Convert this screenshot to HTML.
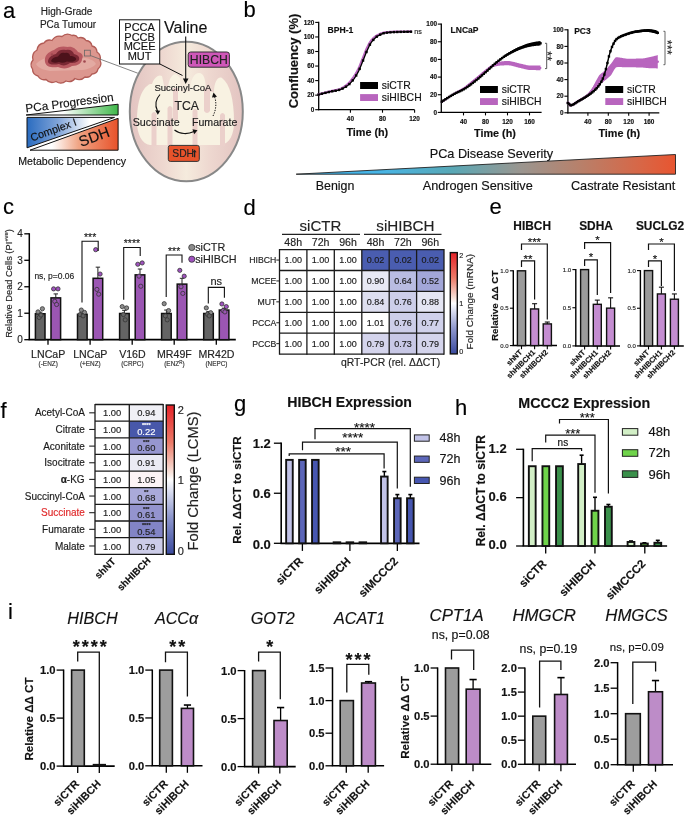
<!DOCTYPE html><html><head><meta charset="utf-8"><title>Figure</title><style>html,body{margin:0;padding:0;background:#fff;width:685px;height:816px;overflow:hidden;}svg text{stroke-width:0.22px;stroke-opacity:0.7;}svg{display:block;font-family:"Liberation Sans",sans-serif;will-change:transform;filter:blur(0.35px);}</style></head><body><svg width="685" height="816" viewBox="0 0 685 816" font-family='"Liberation Sans", sans-serif'><defs>
<linearGradient id="gGreen" x1="0" y1="0" x2="1" y2="0"><stop offset="0" stop-color="#fff"/><stop offset="0.4" stop-color="#fff"/><stop offset="1" stop-color="#3fb84a"/></linearGradient>
<linearGradient id="gBlue" x1="0" y1="0" x2="1" y2="0"><stop offset="0" stop-color="#2a6cc0"/><stop offset="0.35" stop-color="#7fa3d8"/><stop offset="0.72" stop-color="#fff"/><stop offset="1" stop-color="#fff"/></linearGradient>
<linearGradient id="gOrange" x1="0" y1="0" x2="1" y2="0"><stop offset="0" stop-color="#fff"/><stop offset="0.25" stop-color="#fff"/><stop offset="0.55" stop-color="#f0a585"/><stop offset="1" stop-color="#e8522a"/></linearGradient>
<linearGradient id="gMito" x1="0" y1="0" x2="1" y2="0"><stop offset="0" stop-color="#e3c4c1"/><stop offset="0.3" stop-color="#eed8d0"/><stop offset="0.5" stop-color="#f5ebdd"/><stop offset="0.7" stop-color="#eed8d0"/><stop offset="1" stop-color="#e3c4c1"/></linearGradient>
<linearGradient id="gSev" x1="0" y1="0" x2="1" y2="0"><stop offset="0" stop-color="#3cb6f0"/><stop offset="0.22" stop-color="#48b5e6"/><stop offset="0.41" stop-color="#58a8b6"/><stop offset="0.59" stop-color="#9a9690"/><stop offset="0.75" stop-color="#b8806a"/><stop offset="0.91" stop-color="#d86646"/><stop offset="1" stop-color="#e85530"/></linearGradient>
<linearGradient id="gCbar" x1="0" y1="0" x2="0" y2="1"><stop offset="0" stop-color="#e52228"/><stop offset="0.25" stop-color="#ec7a68"/><stop offset="0.45" stop-color="#f8e2da"/><stop offset="0.5" stop-color="#ffffff"/><stop offset="0.56" stop-color="#e2e5f4"/><stop offset="0.75" stop-color="#8e97cd"/><stop offset="1" stop-color="#3a4a9e"/></linearGradient><linearGradient id="gCbar2" x1="0" y1="0" x2="0" y2="1"><stop offset="0" stop-color="#e52228"/><stop offset="0.25" stop-color="#ec7a68"/><stop offset="0.45" stop-color="#f8e2da"/><stop offset="0.5" stop-color="#ffffff"/><stop offset="0.56" stop-color="#e2e5f4"/><stop offset="0.75" stop-color="#8e97cd"/><stop offset="1" stop-color="#3a4a9e"/></linearGradient></defs><text x="3.00" y="17.50" font-size="22" fill="#000" stroke="#000">a</text>
<text x="66.60" y="15.20" font-size="10" text-anchor="middle" fill="#222" stroke="#222">High-Grade</text>
<text x="68.00" y="27.50" font-size="10" text-anchor="middle" fill="#222" stroke="#222">PCa Tumour</text>
<path d="M33,60 Q31.2,53.5 37,50 Q37.8,43.8 44,43 Q47.0,38.7 52,40.5 Q55.5,34.7 62,36.5 Q66.6,32.2 72,35.5 Q76.0,34.5 78,38 Q83.0,36.2 86,40.5 Q91.1,41.0 92,46 Q96.8,47.1 97,52 Q101.5,54.9 100,60 Q102.4,65.3 98,69 Q96.9,73.8 92,74 Q89.6,78.2 85,77 Q80.6,81.5 75,78.5 Q71.5,83.2 66,81 Q61.2,85.0 56,81.5 Q50.2,84.3 46,79.5 Q40.7,80.8 38,76 Q32.6,74.6 32.5,69 Q29.3,64.3 33,60 Z" fill="#dc978f" stroke="#b25c56" stroke-width="1.3"/>
<path d="M36,64 C40,60 46,57 52,58 L80,57 C88,58 94,60 96,64 C92,68 86,70 80,70 L50,71 C44,70 38,68 36,64 Z" fill="#e3aaa2"/>
<path d="M45,62 C44,56 48,52 54,50 C58,46 64,46 68,47 C72,46 76,49 78,52 C82,53 84,56 82,59 C82,63 78,66 72,66 C68,69 62,69 58,67 C52,68 46,67 45,62 Z" fill="#b85860"/>
<path d="M48,62 C48,58 51,55 56,54 C58,50 62,49 66,50 C70,49 73,51 74,54 C78,55 80,57 79,60 C77,63 73,63 70,63 C66,66 62,66 59,64 C54,65 49,65 48,62 Z" fill="#7a2834"/>
<path d="M51,61 C52,58 55,57 58,56.5 C60,53 62,52 65,53 C68,52 70,54 70,56 C74,56 77,58 76,60 C74,62 70,62 67,61.5 C64,63 61,63 59,62 C56,63 52,63 51,61 Z" fill="#4c121b"/>
<circle cx="84.50" cy="61.50" r="1.3" fill="#a04850"/>
<circle cx="52.00" cy="54.50" r="1.2" fill="#a04850"/>
<rect x="84.50" y="50.20" width="5.80" height="5.80" fill="none" stroke="#666" stroke-width="0.8"/>
<line x1="90.30" y1="55.50" x2="137.80" y2="73.20" stroke="#666" stroke-width="0.8"/>
<polygon points="26.10,115.00 118.10,104.20 118.10,115.00" fill="url(#gGreen)" stroke="#111" stroke-width="1"/>
<text x="26.00" y="112.60" font-size="11.75" fill="#111" stroke="#111" transform="rotate(-7.6 26.00 112.60)">PCa Progression</text>
<polygon points="27.00,117.40 114.50,117.40 27.00,147.80" fill="url(#gBlue)" stroke="#111" stroke-width="1"/>
<polygon points="118.10,118.30 118.10,150.20 30.00,150.20" fill="url(#gOrange)" stroke="#111" stroke-width="1"/>
<text x="32.00" y="141.50" font-size="10.7" fill="#111" stroke="#111" transform="rotate(-20 32.00 141.50)">Complex I</text>
<text x="81.00" y="147.00" font-size="15" fill="#111" stroke="#111" transform="rotate(-20 81.00 147.00)">SDH</text>
<text x="72.20" y="164.60" font-size="10.6" text-anchor="middle" fill="#111" stroke="#111">Metabolic Dependency</text>
<ellipse cx="186.30" cy="111.50" rx="56.5" ry="69.8" fill="url(#gMito)" stroke="#888" stroke-width="2"/>
<path d="M137,122 C137,100 142,88 150,84 L152,84 C154,78 158,74 162,76 L165,90 L168,90 C168,80 172,74 176,74 L180,78 L181,92 L190,92 C190,80 194,73 199,73 C204,73 206,80 206,92 L214,92 C214,82 218,76 222,78 C230,84 234,100 234,122 C234,134 230,144 220,145 L150,145 C142,144 137,134 137,122 Z" fill="#f8f2e2"/>
<path d="M151.5,146 L151.5,114 Q154.0,110 156.5,114 L156.5,146 Z" fill="#ebd0cb"/>
<path d="M167.5,146 L167.5,108 Q170.0,104 172.5,108 L172.5,146 Z" fill="#ebd0cb"/>
<path d="M192.5,146 L192.5,111 Q195.0,107 197.5,111 L197.5,146 Z" fill="#ebd0cb"/>
<path d="M220,146 L220,115 Q222.5,111 225,115 L225,146 Z" fill="#ebd0cb"/>
<path d="M173,88 L173,119 Q175.5,123 178,119 L178,88 Z" fill="#ebd0cb"/>
<path d="M204,88 L204,111 Q207.0,115 210,111 L210,88 Z" fill="#ebd0cb"/>
<rect x="119.50" y="19.80" width="40.20" height="44.20" fill="#fff" stroke="#111" stroke-width="1"/>
<text x="139.60" y="31.30" font-size="11" text-anchor="middle" fill="#111" stroke="#111">PCCA</text>
<text x="139.60" y="40.85" font-size="11" text-anchor="middle" fill="#111" stroke="#111">PCCB</text>
<text x="139.60" y="50.40" font-size="11" text-anchor="middle" fill="#111" stroke="#111">MCEE</text>
<text x="139.60" y="59.95" font-size="11" text-anchor="middle" fill="#111" stroke="#111">MUT</text>
<text x="164.00" y="33.00" font-size="16" fill="#111" stroke="#111">Valine</text>
<line x1="185.70" y1="36.50" x2="185.70" y2="80.00" stroke="#111" stroke-width="1.1"/>
<polygon points="182.90,78.50 188.50,78.50 185.70,84.00" fill="#111"/>
<line x1="159.50" y1="63.80" x2="182.50" y2="75.50" stroke="#111" stroke-width="1"/>
<rect x="188.20" y="52.00" width="41.20" height="15.20" fill="#cf57b8" stroke="#333" stroke-width="1" rx="2.5"/>
<text x="208.80" y="64.10" font-size="12.2" text-anchor="middle" fill="#222" stroke="#222">HIBCH</text>
<text x="182.90" y="91.00" font-size="9.5" text-anchor="middle" fill="#222" stroke="#222">Succinyl-CoA</text>
<text x="186.80" y="110.00" font-size="12.2" text-anchor="middle" fill="#222" stroke="#222">TCA</text>
<text x="132.70" y="126.00" font-size="10.7" fill="#222" stroke="#222">Succinate</text>
<text x="192.00" y="126.00" font-size="10.6" fill="#222" stroke="#222">Fumarate</text>
<path d="M160,94.5 C155,100 155,106 157.5,111" fill="none" stroke="#111" stroke-width="1.1"/>
<polygon points="155.20,110.20 160.20,110.80 157.80,114.80" fill="#111"/>
<path d="M174.5,130 C180,134.5 188,134.5 194,131.5" fill="none" stroke="#111" stroke-width="1.1"/>
<polygon points="192.50,129.20 197.50,130.20 194.20,134.20" fill="#111"/>
<path d="M213,116 C216.5,109 216.5,102 214.5,96.5" fill="none" stroke="#111" stroke-width="1" stroke-dasharray="1.3,1.3"/>
<polygon points="212.00,97.50 217.00,96.80 213.50,92.60" fill="#111"/>
<rect x="168.30" y="145.40" width="31.00" height="16.00" fill="#e8532b" stroke="#333" stroke-width="1" rx="2"/>
<text x="172.30" y="157.20" font-size="10.3" fill="#222" stroke="#222">SDH</text>
<line x1="194.60" y1="157.30" x2="194.60" y2="151.50" stroke="#222" stroke-width="1.3"/>
<polygon points="192.60,152.20 196.60,152.20 194.60,149.40" fill="#222"/>
<text x="243.50" y="17.00" font-size="22" fill="#000" stroke="#000">b</text>
<text x="297.90" y="61.00" font-size="13.0" text-anchor="middle" font-weight="bold" fill="#111" stroke="#111" transform="rotate(-90 297.90 61.00)">Confluency (%)</text>
<line x1="318.70" y1="21.80" x2="318.70" y2="110.30" stroke="#000" stroke-width="1.3"/>
<line x1="315.20" y1="109.70" x2="318.70" y2="109.70" stroke="#000" stroke-width="1.1"/>
<text x="314.40" y="111.80" font-size="6.4" text-anchor="end" font-weight="bold" fill="#111" stroke="#111">0</text>
<line x1="315.20" y1="95.15" x2="318.70" y2="95.15" stroke="#000" stroke-width="1.1"/>
<text x="314.40" y="97.25" font-size="6.4" text-anchor="end" font-weight="bold" fill="#111" stroke="#111">20</text>
<line x1="315.20" y1="80.60" x2="318.70" y2="80.60" stroke="#000" stroke-width="1.1"/>
<text x="314.40" y="82.70" font-size="6.4" text-anchor="end" font-weight="bold" fill="#111" stroke="#111">40</text>
<line x1="315.20" y1="66.05" x2="318.70" y2="66.05" stroke="#000" stroke-width="1.1"/>
<text x="314.40" y="68.15" font-size="6.4" text-anchor="end" font-weight="bold" fill="#111" stroke="#111">60</text>
<line x1="315.20" y1="51.50" x2="318.70" y2="51.50" stroke="#000" stroke-width="1.1"/>
<text x="314.40" y="53.60" font-size="6.4" text-anchor="end" font-weight="bold" fill="#111" stroke="#111">80</text>
<line x1="315.20" y1="36.95" x2="318.70" y2="36.95" stroke="#000" stroke-width="1.1"/>
<text x="314.40" y="39.05" font-size="6.4" text-anchor="end" font-weight="bold" fill="#111" stroke="#111">100</text>
<line x1="315.20" y1="22.40" x2="318.70" y2="22.40" stroke="#000" stroke-width="1.1"/>
<text x="314.40" y="24.50" font-size="6.4" text-anchor="end" font-weight="bold" fill="#111" stroke="#111">120</text>
<line x1="318.10" y1="109.70" x2="414.60" y2="109.70" stroke="#000" stroke-width="1.3"/>
<line x1="350.40" y1="109.70" x2="350.40" y2="112.70" stroke="#000" stroke-width="1.1"/>
<text x="350.40" y="121.00" font-size="6.4" text-anchor="middle" font-weight="bold" fill="#111" stroke="#111">40</text>
<line x1="382.50" y1="109.70" x2="382.50" y2="112.70" stroke="#000" stroke-width="1.1"/>
<text x="382.50" y="121.00" font-size="6.4" text-anchor="middle" font-weight="bold" fill="#111" stroke="#111">80</text>
<line x1="414.60" y1="109.70" x2="414.60" y2="112.70" stroke="#000" stroke-width="1.1"/>
<text x="414.60" y="121.00" font-size="6.4" text-anchor="middle" font-weight="bold" fill="#111" stroke="#111">120</text>
<polyline points="318.54,94.50 319.12,94.33 319.70,94.16 320.29,94.00 320.87,93.84 321.45,93.67 322.03,93.51 322.61,93.35 323.19,93.19 323.77,93.04 324.36,92.88 324.94,92.72 325.52,92.57 326.10,92.42 326.68,92.27 327.26,92.12 327.84,91.97 328.43,91.82 329.01,91.68 329.59,91.53 330.17,91.39 330.75,91.24 331.33,91.10 331.91,90.97 332.50,90.85 333.08,90.73 333.66,90.61 334.24,90.50 334.82,90.39 335.40,90.27 335.98,90.15 336.57,90.03 337.15,89.89 337.73,89.75 338.31,89.59 338.89,89.42 339.47,89.23 340.05,89.01 340.64,88.76 341.22,88.50 341.80,88.21 342.38,87.89 342.96,87.56 343.54,87.20 344.12,86.83 344.71,86.44 345.29,86.03 345.87,85.61 346.45,85.18 347.03,84.73 347.61,84.25 348.19,83.74 348.78,83.17 349.36,82.57 349.94,81.92 350.52,81.25 351.10,80.54 351.68,79.80 352.26,79.04 352.85,78.26 353.43,77.47 354.01,76.65 354.59,75.78 355.17,74.86 355.75,73.90 356.33,72.90 356.92,71.86 357.50,70.77 358.08,69.65 358.66,68.48 359.24,67.22 359.82,65.88 360.40,64.48 360.99,63.03 361.57,61.55 362.15,60.06 362.73,58.59 363.31,57.14 363.89,55.67 364.47,54.15 365.06,52.64 365.64,51.18 366.22,49.82 366.80,48.58 367.38,47.35 367.96,46.15 368.54,44.99 369.13,43.88 369.71,42.85 370.29,41.92 370.87,41.08 371.45,40.37 372.03,39.71 372.61,39.09 373.20,38.49 373.78,37.94 374.36,37.41 374.94,36.93 375.52,36.48 376.10,36.06 376.68,35.69 377.27,35.35 377.85,35.05 378.43,34.77 379.01,34.49 379.59,34.22 380.17,33.96 380.75,33.72 381.34,33.49 381.92,33.27 382.50,33.08 383.08,32.90 383.66,32.74 384.24,32.60 384.82,32.49 385.41,32.40 385.99,32.34 386.57,32.28 387.15,32.23 387.73,32.17 388.31,32.13 388.89,32.08 389.48,32.04 390.06,32.00 390.64,31.96 391.22,31.92 391.80,31.89 392.38,31.86 392.96,31.84 393.55,31.81 394.13,31.79 394.71,31.77 395.29,31.75 395.87,31.73 396.45,31.72 397.03,31.71 397.62,31.70 398.20,31.69 398.78,31.68 399.36,31.67 399.94,31.66 400.52,31.65 401.10,31.65 401.69,31.64 402.27,31.63 402.85,31.62 403.43,31.62 404.01,31.61 404.59,31.60 405.17,31.60 405.76,31.59 406.34,31.59 406.92,31.58 407.50,31.58 408.08,31.58 408.66,31.57 409.24,31.57 409.83,31.57 410.41,31.57 410.99,31.57" fill="none" stroke="#b865be" stroke-width="2.4" stroke-linejoin="round" stroke-linecap="round"/>
<polyline points="318.54,94.65 319.12,94.48 319.70,94.33 320.29,94.17 320.87,94.01 321.45,93.86 322.03,93.70 322.61,93.55 323.19,93.40 323.77,93.25 324.36,93.11 324.94,92.96 325.52,92.82 326.10,92.68 326.68,92.54 327.26,92.40 327.84,92.26 328.43,92.13 329.01,91.99 329.59,91.86 330.17,91.73 330.75,91.60 331.33,91.47 331.91,91.35 332.50,91.24 333.08,91.13 333.66,91.03 334.24,90.93 334.82,90.84 335.40,90.74 335.98,90.63 336.57,90.52 337.15,90.41 337.73,90.28 338.31,90.14 338.89,89.99 339.47,89.82 340.05,89.63 340.64,89.42 341.22,89.19 341.80,88.94 342.38,88.67 342.96,88.39 343.54,88.08 344.12,87.76 344.71,87.43 345.29,87.08 345.87,86.71 346.45,86.34 347.03,85.95 347.61,85.54 348.19,85.09 348.78,84.60 349.36,84.08 349.94,83.52 350.52,82.93 351.10,82.31 351.68,81.66 352.26,80.98 352.85,80.29 353.43,79.57 354.01,78.81 354.59,78.00 355.17,77.13 355.75,76.21 356.33,75.25 356.92,74.24 357.50,73.18 358.08,72.10 358.66,70.97 359.24,69.76 359.82,68.46 360.40,67.09 360.99,65.68 361.57,64.24 362.15,62.79 362.73,61.34 363.31,59.91 363.89,58.46 364.47,56.96 365.06,55.46 365.64,54.00 366.22,52.61 366.80,51.30 367.38,49.99 367.96,48.69 368.54,47.42 369.13,46.20 369.71,45.05 370.29,43.99 370.87,43.05 371.45,42.23 372.03,41.47 372.61,40.74 373.20,40.05 373.78,39.40 374.36,38.78 374.94,38.21 375.52,37.67 376.10,37.18 376.68,36.74 377.27,36.34 377.85,35.98 378.43,35.65 379.01,35.32 379.59,35.00 380.17,34.70 380.75,34.41 381.34,34.14 381.92,33.88 382.50,33.65 383.08,33.44 383.66,33.25 384.24,33.09 384.82,32.95 385.41,32.85 385.99,32.77 386.57,32.70 387.15,32.63 387.73,32.57 388.31,32.52 388.89,32.46 389.48,32.41 390.06,32.36 390.64,32.32 391.22,32.28 391.80,32.24 392.38,32.20 392.96,32.17 393.55,32.14 394.13,32.11 394.71,32.09 395.29,32.06 395.87,32.04 396.45,32.02 397.03,32.00 397.62,31.98 398.20,31.96 398.78,31.95 399.36,31.93 399.94,31.91 400.52,31.89 401.10,31.88 401.69,31.86 402.27,31.85 402.85,31.83 403.43,31.82 404.01,31.80 404.59,31.79 405.17,31.78 405.76,31.77 406.34,31.76 406.92,31.75 407.50,31.74 408.08,31.73 408.66,31.73 409.24,31.72 409.83,31.72 410.41,31.71 410.99,31.71" fill="none" stroke="#000" stroke-width="1.3" stroke-linejoin="round" stroke-linecap="round"/>
<rect x="317.34" y="93.45" width="2.40" height="2.40" fill="#000"/>
<rect x="320.76" y="92.52" width="2.40" height="2.40" fill="#000"/>
<rect x="324.19" y="91.65" width="2.40" height="2.40" fill="#000"/>
<rect x="327.61" y="90.84" width="2.40" height="2.40" fill="#000"/>
<rect x="331.04" y="90.09" width="2.40" height="2.40" fill="#000"/>
<rect x="334.46" y="89.49" width="2.40" height="2.40" fill="#000"/>
<rect x="337.88" y="88.73" width="2.40" height="2.40" fill="#000"/>
<rect x="341.31" y="87.41" width="2.40" height="2.40" fill="#000"/>
<rect x="344.73" y="85.47" width="2.40" height="2.40" fill="#000"/>
<rect x="348.16" y="82.88" width="2.40" height="2.40" fill="#000"/>
<rect x="351.58" y="79.16" width="2.40" height="2.40" fill="#000"/>
<rect x="355.00" y="74.27" width="2.40" height="2.40" fill="#000"/>
<rect x="358.43" y="67.70" width="2.40" height="2.40" fill="#000"/>
<rect x="361.85" y="59.34" width="2.40" height="2.40" fill="#000"/>
<rect x="365.28" y="50.82" width="2.40" height="2.40" fill="#000"/>
<rect x="368.70" y="43.48" width="2.40" height="2.40" fill="#000"/>
<rect x="372.12" y="38.71" width="2.40" height="2.40" fill="#000"/>
<rect x="375.55" y="35.49" width="2.40" height="2.40" fill="#000"/>
<rect x="378.97" y="33.50" width="2.40" height="2.40" fill="#000"/>
<rect x="382.40" y="32.07" width="2.40" height="2.40" fill="#000"/>
<rect x="385.82" y="31.45" width="2.40" height="2.40" fill="#000"/>
<rect x="389.24" y="31.13" width="2.40" height="2.40" fill="#000"/>
<rect x="392.67" y="30.93" width="2.40" height="2.40" fill="#000"/>
<rect x="396.09" y="30.79" width="2.40" height="2.40" fill="#000"/>
<rect x="399.52" y="30.69" width="2.40" height="2.40" fill="#000"/>
<rect x="402.94" y="30.60" width="2.40" height="2.40" fill="#000"/>
<rect x="406.36" y="30.54" width="2.40" height="2.40" fill="#000"/>
<rect x="409.79" y="30.51" width="2.40" height="2.40" fill="#000"/>
<text x="327.60" y="32.50" font-size="8.6" font-weight="bold" fill="#111" stroke="#111">BPH-1</text>
<text x="414.30" y="34.00" font-size="7.2" fill="#222" stroke="#222">ns</text>
<rect x="360.10" y="82.00" width="17.90" height="7.00" fill="#000"/>
<rect x="360.10" y="94.10" width="17.90" height="6.90" fill="#b865be"/>
<text x="381.80" y="89.20" font-size="10.4" fill="#111" stroke="#111">siCTR</text>
<text x="381.80" y="100.60" font-size="10.4" fill="#111" stroke="#111">siHIBCH</text>
<text x="367.30" y="136.40" font-size="10.8" text-anchor="middle" font-weight="bold" fill="#111" stroke="#111">Time (h)</text>
<line x1="441.30" y1="23.50" x2="441.30" y2="113.00" stroke="#000" stroke-width="1.3"/>
<line x1="437.80" y1="112.40" x2="441.30" y2="112.40" stroke="#000" stroke-width="1.1"/>
<text x="437.00" y="114.50" font-size="6.4" text-anchor="end" font-weight="bold" fill="#111" stroke="#111">0</text>
<line x1="437.80" y1="94.74" x2="441.30" y2="94.74" stroke="#000" stroke-width="1.1"/>
<text x="437.00" y="96.84" font-size="6.4" text-anchor="end" font-weight="bold" fill="#111" stroke="#111">20</text>
<line x1="437.80" y1="77.08" x2="441.30" y2="77.08" stroke="#000" stroke-width="1.1"/>
<text x="437.00" y="79.18" font-size="6.4" text-anchor="end" font-weight="bold" fill="#111" stroke="#111">40</text>
<line x1="437.80" y1="59.42" x2="441.30" y2="59.42" stroke="#000" stroke-width="1.1"/>
<text x="437.00" y="61.52" font-size="6.4" text-anchor="end" font-weight="bold" fill="#111" stroke="#111">60</text>
<line x1="437.80" y1="41.76" x2="441.30" y2="41.76" stroke="#000" stroke-width="1.1"/>
<text x="437.00" y="43.86" font-size="6.4" text-anchor="end" font-weight="bold" fill="#111" stroke="#111">80</text>
<line x1="437.80" y1="24.10" x2="441.30" y2="24.10" stroke="#000" stroke-width="1.1"/>
<text x="437.00" y="26.20" font-size="6.4" text-anchor="end" font-weight="bold" fill="#111" stroke="#111">100</text>
<line x1="440.70" y1="112.40" x2="541.60" y2="112.40" stroke="#000" stroke-width="1.3"/>
<line x1="463.50" y1="112.40" x2="463.50" y2="115.40" stroke="#000" stroke-width="1.1"/>
<text x="463.50" y="123.70" font-size="6.4" text-anchor="middle" font-weight="bold" fill="#111" stroke="#111">40</text>
<line x1="485.50" y1="112.40" x2="485.50" y2="115.40" stroke="#000" stroke-width="1.1"/>
<text x="485.50" y="123.70" font-size="6.4" text-anchor="middle" font-weight="bold" fill="#111" stroke="#111">80</text>
<line x1="507.50" y1="112.40" x2="507.50" y2="115.40" stroke="#000" stroke-width="1.1"/>
<text x="507.50" y="123.70" font-size="6.4" text-anchor="middle" font-weight="bold" fill="#111" stroke="#111">120</text>
<line x1="529.50" y1="112.40" x2="529.50" y2="115.40" stroke="#000" stroke-width="1.1"/>
<text x="529.50" y="123.70" font-size="6.4" text-anchor="middle" font-weight="bold" fill="#111" stroke="#111">160</text>
<polygon points="441.77,101.78 442.40,101.32 443.02,100.87 443.64,100.42 444.26,99.97 444.88,99.53 445.50,99.09 446.12,98.65 446.74,98.22 447.36,97.79 447.98,97.36 448.61,96.94 449.23,96.52 449.85,96.10 450.47,95.69 451.09,95.27 451.71,94.87 452.33,94.46 452.95,94.06 453.57,93.66 454.19,93.27 454.81,92.87 455.44,92.50 456.06,92.13 456.68,91.77 457.30,91.41 457.92,91.06 458.54,90.72 459.16,90.37 459.78,90.02 460.40,89.67 461.02,89.31 461.64,88.95 462.27,88.58 462.89,88.19 463.51,87.79 464.13,87.38 464.75,86.95 465.37,86.50 465.99,86.05 466.61,85.58 467.23,85.10 467.85,84.61 468.47,84.11 469.10,83.60 469.72,83.09 470.34,82.57 470.96,82.05 471.58,81.53 472.20,81.00 472.82,80.48 473.44,79.96 474.06,79.44 474.68,78.92 475.30,78.40 475.93,77.89 476.55,77.37 477.17,76.84 477.79,76.31 478.41,75.78 479.03,75.25 479.65,74.71 480.27,74.17 480.89,73.64 481.51,73.10 482.13,72.57 482.76,72.04 483.38,71.51 484.00,70.99 484.62,70.47 485.24,69.96 485.86,69.46 486.48,68.97 487.10,68.47 487.72,67.96 488.34,67.45 488.96,66.94 489.59,66.45 490.21,65.97 490.83,65.54 491.45,65.11 492.07,64.74 492.69,64.40 493.31,64.09 493.93,63.79 494.55,63.52 495.17,63.27 495.79,63.04 496.42,62.82 497.04,62.61 497.66,62.40 498.28,62.20 498.90,62.01 499.52,61.83 500.14,61.66 500.76,61.51 501.38,61.38 502.00,61.27 502.62,61.22 503.25,61.18 503.87,61.13 504.49,61.09 505.11,61.06 505.73,61.03 506.35,61.01 506.97,60.99 507.59,60.98 508.21,61.00 508.83,61.04 509.45,61.09 510.08,61.17 510.70,61.27 511.32,61.38 511.94,61.51 512.56,61.65 513.18,61.80 513.80,61.95 514.42,62.12 515.04,62.28 515.66,62.45 516.28,62.62 516.91,62.79 517.53,62.96 518.15,63.12 518.77,63.27 519.39,63.42 520.01,63.55 520.63,63.68 521.25,63.82 521.87,63.96 522.49,64.11 523.11,64.27 523.74,64.43 524.36,64.58 524.98,64.73 525.60,64.87 526.22,65.01 526.84,65.13 527.46,65.24 528.08,65.33 528.70,65.40 529.32,65.45 529.94,65.48 530.57,65.49 531.19,65.51 531.81,65.52 532.43,65.53 533.05,65.55 533.67,65.56 534.29,65.57 534.91,65.57 535.53,65.58 536.15,65.59 536.77,65.59 537.40,65.60 538.02,65.60 538.64,65.61 539.26,65.61 539.88,65.61 540.50,65.61 540.50,70.19 539.88,70.18 539.26,70.18 538.64,70.17 538.02,70.16 537.40,70.15 536.77,70.14 536.15,70.13 535.53,70.12 534.91,70.11 534.29,70.09 533.67,70.08 533.05,70.06 532.43,70.04 531.81,70.03 531.19,70.01 530.57,69.99 529.94,69.97 529.32,69.93 528.70,69.88 528.08,69.80 527.46,69.70 526.84,69.59 526.22,69.46 525.60,69.32 524.98,69.17 524.36,69.02 523.74,68.86 523.11,68.70 522.49,68.53 521.87,68.38 521.25,68.23 520.63,68.08 520.01,67.95 519.39,67.81 518.77,67.66 518.15,67.50 517.53,67.33 516.91,67.16 516.28,66.99 515.66,66.81 515.04,66.64 514.42,66.46 513.80,66.30 513.18,66.13 512.56,65.98 511.94,65.84 511.32,65.70 510.70,65.59 510.08,65.48 509.45,65.40 508.83,65.33 508.21,65.29 507.59,65.27 506.97,65.27 506.35,65.28 505.73,65.30 505.11,65.32 504.49,65.35 503.87,65.39 503.25,65.43 502.62,65.47 502.00,65.51 501.38,65.52 500.76,65.55 500.14,65.60 499.52,65.67 498.90,65.75 498.28,65.84 497.66,65.94 497.04,66.05 496.42,66.16 495.79,66.28 495.17,66.41 494.55,66.57 493.93,66.74 493.31,66.93 492.69,67.14 492.07,67.38 491.45,67.66 490.83,68.00 490.21,68.41 489.59,68.86 488.96,69.33 488.34,69.81 487.72,70.30 487.10,70.78 486.48,71.25 485.86,71.71 485.24,72.19 484.62,72.67 484.00,73.16 483.38,73.66 482.76,74.16 482.13,74.66 481.51,75.17 480.89,75.68 480.27,76.19 479.65,76.70 479.03,77.21 478.41,77.71 477.79,78.22 477.17,78.72 476.55,79.22 475.93,79.72 475.30,80.20 474.68,80.69 474.06,81.19 473.44,81.68 472.82,82.18 472.20,82.68 471.58,83.19 470.96,83.68 470.34,84.18 469.72,84.68 469.10,85.16 468.47,85.65 467.85,86.12 467.23,86.59 466.61,87.05 465.99,87.49 465.37,87.93 464.75,88.35 464.13,88.75 463.51,89.15 462.89,89.52 462.27,89.88 461.64,90.23 461.02,90.57 460.40,90.91 459.78,91.24 459.16,91.56 458.54,91.88 457.92,92.21 457.30,92.53 456.68,92.86 456.06,93.20 455.44,93.55 454.81,93.90 454.19,94.27 453.57,94.64 452.95,95.02 452.33,95.40 451.71,95.78 451.09,96.16 450.47,96.55 449.85,96.94 449.23,97.34 448.61,97.73 447.98,98.13 447.36,98.54 446.74,98.94 446.12,99.36 445.50,99.77 444.88,100.19 444.26,100.61 443.64,101.03 443.02,101.45 442.40,101.88 441.77,102.32" fill="#b865be"/>
<polyline points="441.77,102.05 442.40,101.60 443.02,101.16 443.64,100.72 444.26,100.29 444.88,99.86 445.50,99.43 446.12,99.00 446.74,98.58 447.36,98.16 447.98,97.75 448.61,97.34 449.23,96.93 449.85,96.52 450.47,96.12 451.09,95.72 451.71,95.32 452.33,94.93 452.95,94.54 453.57,94.15 454.19,93.77 454.81,93.39 455.44,93.02 456.06,92.66 456.68,92.31 457.30,91.97 457.92,91.63 458.54,91.30 459.16,90.97 459.78,90.63 460.40,90.29 461.02,89.94 461.64,89.59 462.27,89.23 462.89,88.86 463.51,88.47 464.13,88.07 464.75,87.65 465.37,87.21 465.99,86.77 466.61,86.31 467.23,85.84 467.85,85.36 468.47,84.88 469.10,84.38 469.72,83.88 470.34,83.38 470.96,82.87 471.58,82.36 472.20,81.84 472.82,81.33 473.44,80.82 474.06,80.31 474.68,79.81 475.30,79.30 475.93,78.80 476.55,78.30 477.17,77.78 477.79,77.27 478.41,76.75 479.03,76.23 479.65,75.70 480.27,75.18 480.89,74.66 481.51,74.13 482.13,73.61 482.76,73.10 483.38,72.58 484.00,72.08 484.62,71.57 485.24,71.08 485.86,70.59 486.48,70.11 487.10,69.63 487.72,69.13 488.34,68.63 488.96,68.13 489.59,67.65 490.21,67.19 490.83,66.77 491.45,66.39 492.07,66.06 492.69,65.77 493.31,65.51 493.93,65.27 494.55,65.04 495.17,64.84 495.79,64.66 496.42,64.49 497.04,64.33 497.66,64.17 498.28,64.02 498.90,63.88 499.52,63.75 500.14,63.63 500.76,63.53 501.38,63.45 502.00,63.39 502.62,63.35 503.25,63.30 503.87,63.26 504.49,63.22 505.11,63.19 505.73,63.16 506.35,63.14 506.97,63.13 507.59,63.13 508.21,63.15 508.83,63.19 509.45,63.25 510.08,63.33 510.70,63.43 511.32,63.54 511.94,63.67 512.56,63.81 513.18,63.96 513.80,64.12 514.42,64.29 515.04,64.46 515.66,64.63 516.28,64.81 516.91,64.98 517.53,65.15 518.15,65.31 518.77,65.47 519.39,65.61 520.01,65.75 520.63,65.88 521.25,66.02 521.87,66.17 522.49,66.32 523.11,66.48 523.74,66.64 524.36,66.80 524.98,66.95 525.60,67.10 526.22,67.23 526.84,67.36 527.46,67.47 528.08,67.56 528.70,67.64 529.32,67.69 529.94,67.72 530.57,67.74 531.19,67.76 531.81,67.77 532.43,67.79 533.05,67.80 533.67,67.82 534.29,67.83 534.91,67.84 535.53,67.85 536.15,67.86 536.77,67.87 537.40,67.88 538.02,67.88 538.64,67.89 539.26,67.89 539.88,67.89 540.50,67.90" fill="none" stroke="#b865be" stroke-width="2.0" stroke-linejoin="round" stroke-linecap="round"/>
<polygon points="441.77,101.52 442.40,101.10 443.02,100.67 443.64,100.25 444.26,99.84 444.88,99.43 445.50,99.02 446.12,98.61 446.74,98.22 447.36,97.82 447.98,97.43 448.61,97.04 449.23,96.66 449.85,96.28 450.47,95.91 451.09,95.54 451.71,95.17 452.33,94.81 452.95,94.45 453.57,94.10 454.19,93.75 454.81,93.40 455.44,93.07 456.06,92.75 456.68,92.45 457.30,92.14 457.92,91.85 458.54,91.55 459.16,91.26 459.78,90.97 460.40,90.67 461.02,90.37 461.64,90.06 462.27,89.74 462.89,89.41 463.51,89.07 464.13,88.71 464.75,88.33 465.37,87.94 465.99,87.53 466.61,87.12 467.23,86.70 467.85,86.26 468.47,85.82 469.10,85.36 469.72,84.90 470.34,84.44 470.96,83.96 471.58,83.49 472.20,83.00 472.82,82.52 473.44,82.03 474.06,81.54 474.68,81.05 475.30,80.56 475.93,80.07 476.55,79.57 477.17,79.06 477.79,78.55 478.41,78.03 479.03,77.50 479.65,76.97 480.27,76.44 480.89,75.90 481.51,75.35 482.13,74.81 482.76,74.26 483.38,73.71 484.00,73.16 484.62,72.61 485.24,72.05 485.86,71.50 486.48,70.95 487.10,70.39 487.72,69.83 488.34,69.25 488.96,68.67 489.59,68.08 490.21,67.49 490.83,66.90 491.45,66.30 492.07,65.69 492.69,65.09 493.31,64.50 493.93,63.91 494.55,63.34 495.17,62.77 495.79,62.23 496.42,61.70 497.04,61.18 497.66,60.66 498.28,60.14 498.90,59.63 499.52,59.13 500.14,58.63 500.76,58.14 501.38,57.65 502.00,57.17 502.62,56.70 503.25,56.23 503.87,55.78 504.49,55.33 505.11,54.89 505.73,54.46 506.35,54.04 506.97,53.63 507.59,53.22 508.21,52.83 508.83,52.44 509.45,52.05 510.08,51.67 510.70,51.30 511.32,50.93 511.94,50.56 512.56,50.20 513.18,49.85 513.80,49.50 514.42,49.17 515.04,48.84 515.66,48.51 516.28,48.20 516.91,47.89 517.53,47.59 518.15,47.29 518.77,47.00 519.39,46.73 520.01,46.46 520.63,46.19 521.25,45.93 521.87,45.67 522.49,45.41 523.11,45.16 523.74,44.91 524.36,44.67 524.98,44.43 525.60,44.21 526.22,43.99 526.84,43.78 527.46,43.58 528.08,43.39 528.70,43.22 529.32,43.05 529.94,42.90 530.57,42.76 531.19,42.62 531.81,42.48 532.43,42.34 533.05,42.21 533.67,42.08 534.29,41.96 534.91,41.84 535.53,41.72 536.15,41.61 536.77,41.50 537.40,41.41 538.02,41.31 538.64,41.23 539.26,41.15 539.88,41.09 540.50,41.03 540.50,45.55 539.88,45.57 539.26,45.60 538.64,45.64 538.02,45.69 537.40,45.74 536.77,45.80 536.15,45.86 535.53,45.94 534.91,46.01 534.29,46.10 533.67,46.18 533.05,46.27 532.43,46.37 531.81,46.47 531.19,46.57 530.57,46.67 529.94,46.77 529.32,46.89 528.70,47.01 528.08,47.15 527.46,47.30 526.84,47.46 526.22,47.63 525.60,47.81 524.98,48.00 524.36,48.20 523.74,48.40 523.11,48.61 522.49,48.82 521.87,49.04 521.25,49.26 520.63,49.49 520.01,49.71 519.39,49.95 518.77,50.19 518.15,50.43 517.53,50.69 516.91,50.95 516.28,51.23 515.66,51.50 515.04,51.79 514.42,52.08 513.80,52.38 513.18,52.68 512.56,52.99 511.94,53.30 511.32,53.62 510.70,53.94 510.08,54.26 509.45,54.60 508.83,54.93 508.21,55.27 507.59,55.62 506.97,55.97 506.35,56.33 505.73,56.70 505.11,57.08 504.49,57.47 503.87,57.87 503.25,58.28 502.62,58.69 502.00,59.11 501.38,59.54 500.76,59.98 500.14,60.42 499.52,60.87 498.90,61.33 498.28,61.79 497.66,62.25 497.04,62.72 496.42,63.19 495.79,63.67 495.17,64.17 494.55,64.68 493.93,65.20 493.31,65.74 492.69,66.29 492.07,66.84 491.45,67.39 490.83,67.96 490.21,68.54 489.59,69.12 488.96,69.70 488.34,70.27 487.72,70.84 487.10,71.40 486.48,71.94 485.86,72.49 485.24,73.03 484.62,73.57 484.00,74.12 483.38,74.66 482.76,75.20 482.13,75.74 481.51,76.28 480.89,76.81 480.27,77.34 479.65,77.87 479.03,78.39 478.41,78.91 477.79,79.42 477.17,79.92 476.55,80.42 475.93,80.91 475.30,81.40 474.68,81.88 474.06,82.36 473.44,82.84 472.82,83.32 472.20,83.80 471.58,84.27 470.96,84.74 470.34,85.20 469.72,85.66 469.10,86.11 468.47,86.55 467.85,86.99 467.23,87.42 466.61,87.83 465.99,88.24 465.37,88.63 464.75,89.01 464.13,89.38 463.51,89.73 462.89,90.07 462.27,90.39 461.64,90.70 461.02,91.00 460.40,91.30 459.78,91.58 459.16,91.87 458.54,92.15 457.92,92.44 457.30,92.72 456.68,93.02 456.06,93.32 455.44,93.63 454.81,93.95 454.19,94.28 453.57,94.62 452.95,94.97 452.33,95.32 451.71,95.67 451.09,96.03 450.47,96.39 449.85,96.75 449.23,97.12 448.61,97.50 447.98,97.87 447.36,98.26 446.74,98.64 446.12,99.03 445.50,99.43 444.88,99.83 444.26,100.23 443.64,100.64 443.02,101.05 442.40,101.46 441.77,101.88" fill="#000"/>
<polyline points="441.77,101.70 442.40,101.28 443.02,100.86 443.64,100.44 444.26,100.03 444.88,99.63 445.50,99.22 446.12,98.82 446.74,98.43 447.36,98.04 447.98,97.65 448.61,97.27 449.23,96.89 449.85,96.52 450.47,96.15 451.09,95.78 451.71,95.42 452.33,95.06 452.95,94.71 453.57,94.36 454.19,94.01 454.81,93.68 455.44,93.35 456.06,93.03 456.68,92.73 457.30,92.43 457.92,92.14 458.54,91.85 459.16,91.57 459.78,91.28 460.40,90.99 461.02,90.69 461.64,90.38 462.27,90.07 462.89,89.74 463.51,89.40 464.13,89.04 464.75,88.67 465.37,88.28 465.99,87.89 466.61,87.48 467.23,87.06 467.85,86.62 468.47,86.18 469.10,85.74 469.72,85.28 470.34,84.82 470.96,84.35 471.58,83.88 472.20,83.40 472.82,82.92 473.44,82.44 474.06,81.95 474.68,81.47 475.30,80.98 475.93,80.49 476.55,80.00 477.17,79.49 477.79,78.98 478.41,78.47 479.03,77.95 479.65,77.42 480.27,76.89 480.89,76.35 481.51,75.82 482.13,75.27 482.76,74.73 483.38,74.18 484.00,73.64 484.62,73.09 485.24,72.54 485.86,71.99 486.48,71.45 487.10,70.89 487.72,70.33 488.34,69.76 488.96,69.19 489.59,68.60 490.21,68.02 490.83,67.43 491.45,66.85 492.07,66.26 492.69,65.69 493.31,65.12 493.93,64.56 494.55,64.01 495.17,63.47 495.79,62.95 496.42,62.45 497.04,61.95 497.66,61.45 498.28,60.97 498.90,60.48 499.52,60.00 500.14,59.53 500.76,59.06 501.38,58.60 502.00,58.14 502.62,57.69 503.25,57.25 503.87,56.82 504.49,56.40 505.11,55.98 505.73,55.58 506.35,55.18 506.97,54.80 507.59,54.42 508.21,54.05 508.83,53.69 509.45,53.33 510.08,52.97 510.70,52.62 511.32,52.27 511.94,51.93 512.56,51.59 513.18,51.26 513.80,50.94 514.42,50.62 515.04,50.31 515.66,50.01 516.28,49.71 516.91,49.42 517.53,49.14 518.15,48.86 518.77,48.60 519.39,48.34 520.01,48.08 520.63,47.84 521.25,47.60 521.87,47.36 522.49,47.12 523.11,46.88 523.74,46.66 524.36,46.43 524.98,46.22 525.60,46.01 526.22,45.81 526.84,45.62 527.46,45.44 528.08,45.27 528.70,45.11 529.32,44.97 529.94,44.84 530.57,44.72 531.19,44.59 531.81,44.47 532.43,44.36 533.05,44.24 533.67,44.13 534.29,44.03 534.91,43.92 535.53,43.83 536.15,43.74 536.77,43.65 537.40,43.57 538.02,43.50 538.64,43.44 539.26,43.38 539.88,43.33 540.50,43.29" fill="none" stroke="#000" stroke-width="1.4" stroke-linejoin="round" stroke-linecap="round"/>
<rect x="440.57" y="100.50" width="2.40" height="2.40" fill="#000"/>
<rect x="442.40" y="99.27" width="2.40" height="2.40" fill="#000"/>
<rect x="444.23" y="98.07" width="2.40" height="2.40" fill="#000"/>
<rect x="446.06" y="96.90" width="2.40" height="2.40" fill="#000"/>
<rect x="447.89" y="95.78" width="2.40" height="2.40" fill="#000"/>
<rect x="449.72" y="94.68" width="2.40" height="2.40" fill="#000"/>
<rect x="451.54" y="93.63" width="2.40" height="2.40" fill="#000"/>
<rect x="453.37" y="92.61" width="2.40" height="2.40" fill="#000"/>
<rect x="455.20" y="91.66" width="2.40" height="2.40" fill="#000"/>
<rect x="457.03" y="90.80" width="2.40" height="2.40" fill="#000"/>
<rect x="458.86" y="89.95" width="2.40" height="2.40" fill="#000"/>
<rect x="460.69" y="89.06" width="2.40" height="2.40" fill="#000"/>
<rect x="462.51" y="88.08" width="2.40" height="2.40" fill="#000"/>
<rect x="464.34" y="86.98" width="2.40" height="2.40" fill="#000"/>
<rect x="466.17" y="85.76" width="2.40" height="2.40" fill="#000"/>
<rect x="468.00" y="84.46" width="2.40" height="2.40" fill="#000"/>
<rect x="469.83" y="83.10" width="2.40" height="2.40" fill="#000"/>
<rect x="471.66" y="81.69" width="2.40" height="2.40" fill="#000"/>
<rect x="473.48" y="80.27" width="2.40" height="2.40" fill="#000"/>
<rect x="475.31" y="78.82" width="2.40" height="2.40" fill="#000"/>
<rect x="477.14" y="77.32" width="2.40" height="2.40" fill="#000"/>
<rect x="478.97" y="75.78" width="2.40" height="2.40" fill="#000"/>
<rect x="480.80" y="74.19" width="2.40" height="2.40" fill="#000"/>
<rect x="482.62" y="72.59" width="2.40" height="2.40" fill="#000"/>
<rect x="484.45" y="70.98" width="2.40" height="2.40" fill="#000"/>
<rect x="486.28" y="69.35" width="2.40" height="2.40" fill="#000"/>
<rect x="488.11" y="67.66" width="2.40" height="2.40" fill="#000"/>
<rect x="489.94" y="65.94" width="2.40" height="2.40" fill="#000"/>
<rect x="491.77" y="64.23" width="2.40" height="2.40" fill="#000"/>
<rect x="493.59" y="62.60" width="2.40" height="2.40" fill="#000"/>
<rect x="495.42" y="61.08" width="2.40" height="2.40" fill="#000"/>
<rect x="497.25" y="59.63" width="2.40" height="2.40" fill="#000"/>
<rect x="499.08" y="58.22" width="2.40" height="2.40" fill="#000"/>
<rect x="500.91" y="56.87" width="2.40" height="2.40" fill="#000"/>
<rect x="502.74" y="55.58" width="2.40" height="2.40" fill="#000"/>
<rect x="504.56" y="54.36" width="2.40" height="2.40" fill="#000"/>
<rect x="506.39" y="53.22" width="2.40" height="2.40" fill="#000"/>
<rect x="508.22" y="52.14" width="2.40" height="2.40" fill="#000"/>
<rect x="510.05" y="51.11" width="2.40" height="2.40" fill="#000"/>
<rect x="511.88" y="50.12" width="2.40" height="2.40" fill="#000"/>
<rect x="513.70" y="49.18" width="2.40" height="2.40" fill="#000"/>
<rect x="515.53" y="48.30" width="2.40" height="2.40" fill="#000"/>
<rect x="517.36" y="47.48" width="2.40" height="2.40" fill="#000"/>
<rect x="519.19" y="46.73" width="2.40" height="2.40" fill="#000"/>
<rect x="521.02" y="46.02" width="2.40" height="2.40" fill="#000"/>
<rect x="522.85" y="45.34" width="2.40" height="2.40" fill="#000"/>
<rect x="524.67" y="44.72" width="2.40" height="2.40" fill="#000"/>
<rect x="526.50" y="44.17" width="2.40" height="2.40" fill="#000"/>
<rect x="528.33" y="43.72" width="2.40" height="2.40" fill="#000"/>
<rect x="530.16" y="43.36" width="2.40" height="2.40" fill="#000"/>
<rect x="531.99" y="43.02" width="2.40" height="2.40" fill="#000"/>
<rect x="533.82" y="42.71" width="2.40" height="2.40" fill="#000"/>
<rect x="535.64" y="42.44" width="2.40" height="2.40" fill="#000"/>
<rect x="537.47" y="42.23" width="2.40" height="2.40" fill="#000"/>
<rect x="539.30" y="42.09" width="2.40" height="2.40" fill="#000"/>
<text x="450.60" y="32.70" font-size="8.5" font-weight="bold" fill="#111" stroke="#111">LNCaP</text>
<rect x="480.00" y="86.00" width="17.90" height="7.00" fill="#000"/>
<rect x="480.00" y="98.10" width="17.90" height="6.90" fill="#b865be"/>
<text x="501.70" y="93.20" font-size="10.4" fill="#111" stroke="#111">siCTR</text>
<text x="501.70" y="104.60" font-size="10.4" fill="#111" stroke="#111">siHIBCH</text>
<text x="495.00" y="137.00" font-size="10.8" text-anchor="middle" font-weight="bold" fill="#111" stroke="#111">Time (h)</text>
<path d="M545,43.3 L546.7,43.3 L546.7,68.6 L545,68.6" fill="none" stroke="#444" stroke-width="0.9"/>
<text x="543.20" y="56.30" font-size="12" text-anchor="middle" letter-spacing="0.3" fill="#222" stroke="#222" transform="rotate(90 543.20 56.30)">**</text>
<line x1="567.90" y1="29.20" x2="567.90" y2="113.40" stroke="#000" stroke-width="1.3"/>
<line x1="564.40" y1="112.80" x2="567.90" y2="112.80" stroke="#000" stroke-width="1.1"/>
<text x="563.60" y="114.90" font-size="6.4" text-anchor="end" font-weight="bold" fill="#111" stroke="#111">0</text>
<line x1="564.40" y1="96.20" x2="567.90" y2="96.20" stroke="#000" stroke-width="1.1"/>
<text x="563.60" y="98.30" font-size="6.4" text-anchor="end" font-weight="bold" fill="#111" stroke="#111">20</text>
<line x1="564.40" y1="79.60" x2="567.90" y2="79.60" stroke="#000" stroke-width="1.1"/>
<text x="563.60" y="81.70" font-size="6.4" text-anchor="end" font-weight="bold" fill="#111" stroke="#111">40</text>
<line x1="564.40" y1="63.00" x2="567.90" y2="63.00" stroke="#000" stroke-width="1.1"/>
<text x="563.60" y="65.10" font-size="6.4" text-anchor="end" font-weight="bold" fill="#111" stroke="#111">60</text>
<line x1="564.40" y1="46.40" x2="567.90" y2="46.40" stroke="#000" stroke-width="1.1"/>
<text x="563.60" y="48.50" font-size="6.4" text-anchor="end" font-weight="bold" fill="#111" stroke="#111">80</text>
<line x1="564.40" y1="29.80" x2="567.90" y2="29.80" stroke="#000" stroke-width="1.1"/>
<text x="563.60" y="31.90" font-size="6.4" text-anchor="end" font-weight="bold" fill="#111" stroke="#111">100</text>
<line x1="567.30" y1="112.80" x2="659.30" y2="112.80" stroke="#000" stroke-width="1.3"/>
<line x1="587.90" y1="112.80" x2="587.90" y2="115.80" stroke="#000" stroke-width="1.1"/>
<text x="587.90" y="124.10" font-size="6.4" text-anchor="middle" font-weight="bold" fill="#111" stroke="#111">40</text>
<line x1="608.30" y1="112.80" x2="608.30" y2="115.80" stroke="#000" stroke-width="1.1"/>
<text x="608.30" y="124.10" font-size="6.4" text-anchor="middle" font-weight="bold" fill="#111" stroke="#111">80</text>
<line x1="628.70" y1="112.80" x2="628.70" y2="115.80" stroke="#000" stroke-width="1.1"/>
<text x="628.70" y="124.10" font-size="6.4" text-anchor="middle" font-weight="bold" fill="#111" stroke="#111">120</text>
<line x1="649.10" y1="112.80" x2="649.10" y2="115.80" stroke="#000" stroke-width="1.1"/>
<text x="649.10" y="124.10" font-size="6.4" text-anchor="middle" font-weight="bold" fill="#111" stroke="#111">160</text>
<polygon points="567.75,102.72 568.32,102.57 568.89,102.93 569.45,104.24 570.02,105.09 570.59,105.04 571.15,104.93 571.72,104.75 572.28,104.52 572.85,104.24 573.42,103.92 573.98,103.57 574.55,103.20 575.11,102.80 575.68,102.39 576.25,101.98 576.81,101.57 577.38,101.16 577.95,100.77 578.51,100.41 579.08,100.06 579.64,99.73 580.21,99.39 580.78,99.06 581.34,98.73 581.91,98.39 582.47,98.04 583.04,97.69 583.61,97.33 584.17,96.96 584.74,96.58 585.31,96.18 585.87,95.77 586.44,95.33 587.00,94.88 587.57,94.40 588.14,93.81 588.70,93.08 589.27,92.31 589.83,91.51 590.40,90.69 590.97,89.85 591.53,88.99 592.10,88.12 592.66,87.16 593.23,86.16 593.80,85.11 594.36,84.03 594.93,82.94 595.50,81.84 596.06,80.75 596.63,79.68 597.19,78.63 597.76,77.63 598.33,76.68 598.89,75.79 599.46,75.10 600.02,74.56 600.59,74.06 601.16,73.58 601.72,73.12 602.29,72.68 602.86,72.24 603.42,71.79 603.99,71.33 604.55,70.85 605.12,70.33 605.69,69.73 606.25,69.12 606.82,68.51 607.38,67.89 607.95,67.26 608.52,66.62 609.08,65.97 609.65,65.30 610.21,64.62 610.78,63.92 611.35,63.28 611.91,62.54 612.48,61.70 613.05,60.83 613.61,59.95 614.18,59.12 614.74,58.38 615.31,57.79 615.88,57.37 616.44,57.18 617.01,57.21 617.57,57.27 618.14,57.33 618.71,57.40 619.27,57.48 619.84,57.57 620.41,57.66 620.97,57.76 621.54,57.86 622.10,57.96 622.67,58.06 623.24,58.16 623.80,58.26 624.37,58.36 624.93,58.45 625.50,58.54 626.07,58.62 626.63,58.70 627.20,58.76 627.76,58.82 628.33,58.85 628.90,58.83 629.46,58.81 630.03,58.80 630.60,58.78 631.16,58.77 631.73,58.75 632.29,58.73 632.86,58.72 633.43,58.70 633.99,58.69 634.56,58.67 635.12,58.66 635.69,58.64 636.26,58.62 636.82,58.61 637.39,58.59 637.96,58.58 638.52,58.56 639.09,58.54 639.65,58.53 640.22,58.51 640.79,58.50 641.35,58.48 641.92,58.46 642.48,58.45 643.05,58.42 643.62,58.34 644.18,58.25 644.75,58.16 645.32,58.06 645.88,57.96 646.45,57.85 647.01,57.73 647.58,57.62 648.15,57.50 648.71,57.37 649.28,57.25 649.84,57.12 650.41,56.98 650.98,56.85 651.54,56.71 652.11,56.57 652.67,56.42 653.24,56.28 653.81,56.13 654.37,55.98 654.94,55.83 655.51,55.68 656.07,55.53 656.64,55.38 657.20,55.23 657.77,55.10 657.77,68.38 657.20,68.39 656.64,68.38 656.07,68.37 655.51,68.36 654.94,68.35 654.37,68.34 653.81,68.33 653.24,68.32 652.67,68.30 652.11,68.28 651.54,68.26 650.98,68.24 650.41,68.22 649.84,68.19 649.28,68.16 648.71,68.13 648.15,68.09 647.58,68.05 647.01,68.01 646.45,67.96 645.88,67.91 645.32,67.85 644.75,67.79 644.18,67.72 643.62,67.65 643.05,67.57 642.48,67.55 641.92,67.54 641.35,67.52 640.79,67.50 640.22,67.49 639.65,67.47 639.09,67.46 638.52,67.44 637.96,67.42 637.39,67.41 636.82,67.39 636.26,67.38 635.69,67.36 635.12,67.34 634.56,67.33 633.99,67.31 633.43,67.30 632.86,67.28 632.29,67.27 631.73,67.25 631.16,67.23 630.60,67.22 630.03,67.20 629.46,67.19 628.90,67.17 628.33,67.15 627.76,67.18 627.20,67.20 626.63,67.22 626.07,67.23 625.50,67.23 624.93,67.22 624.37,67.21 623.80,67.20 623.24,67.18 622.67,67.16 622.10,67.14 621.54,67.12 620.97,67.10 620.41,67.09 619.84,67.08 619.27,67.07 618.71,67.07 618.14,67.08 617.57,67.10 617.01,67.13 616.44,67.22 615.88,67.57 615.31,68.14 614.74,68.90 614.18,69.80 613.61,70.79 613.05,71.82 612.48,72.86 611.91,73.86 611.35,74.76 610.78,75.52 610.21,76.06 609.65,76.58 609.08,77.09 608.52,77.58 607.95,78.06 607.38,78.53 606.82,78.99 606.25,79.44 605.69,79.89 605.12,80.33 604.55,80.81 603.99,81.29 603.42,81.75 602.86,82.20 602.29,82.64 601.72,83.08 601.16,83.54 600.59,84.02 600.02,84.52 599.46,85.06 598.89,85.56 598.33,85.99 597.76,86.48 597.19,87.03 596.63,87.61 596.06,88.22 595.50,88.85 594.93,89.49 594.36,90.12 593.80,90.74 593.23,91.32 592.66,91.87 592.10,92.37 591.53,92.87 590.97,93.38 590.40,93.88 589.83,94.36 589.27,94.81 588.70,95.23 588.14,95.61 587.57,96.04 587.00,96.49 586.44,96.91 585.87,97.31 585.31,97.69 584.74,98.06 584.17,98.41 583.61,98.75 583.04,99.08 582.47,99.39 581.91,99.71 581.34,100.01 580.78,100.32 580.21,100.62 579.64,100.92 579.08,101.22 578.51,101.53 577.95,101.87 577.38,102.22 576.81,102.59 576.25,102.97 575.68,103.36 575.11,103.73 574.55,104.10 573.98,104.44 573.42,104.76 572.85,105.05 572.28,105.29 571.72,105.49 571.15,105.63 570.59,105.72 570.02,105.73 569.45,104.85 568.89,103.50 568.32,103.11 567.75,103.24" fill="#b865be"/>
<polyline points="567.75,102.98 568.32,102.84 568.89,103.21 569.45,104.54 570.02,105.41 570.59,105.38 571.15,105.28 571.72,105.12 572.28,104.91 572.85,104.64 573.42,104.34 573.98,104.01 574.55,103.65 575.11,103.27 575.68,102.87 576.25,102.48 576.81,102.08 577.38,101.69 577.95,101.32 578.51,100.97 579.08,100.64 579.64,100.32 580.21,100.01 580.78,99.69 581.34,99.37 581.91,99.05 582.47,98.72 583.04,98.38 583.61,98.04 584.17,97.69 584.74,97.32 585.31,96.94 585.87,96.54 586.44,96.12 587.00,95.68 587.57,95.22 588.14,94.71 588.70,94.16 589.27,93.56 589.83,92.94 590.40,92.28 590.97,91.61 591.53,90.93 592.10,90.25 592.66,89.52 593.23,88.74 593.80,87.92 594.36,87.08 594.93,86.22 595.50,85.35 596.06,84.49 596.63,83.64 597.19,82.83 597.76,82.06 598.33,81.33 598.89,80.67 599.46,80.08 600.02,79.54 600.59,79.04 601.16,78.56 601.72,78.10 602.29,77.66 602.86,77.22 603.42,76.77 603.99,76.31 604.55,75.83 605.12,75.33 605.69,74.81 606.25,74.28 606.82,73.75 607.38,73.21 607.95,72.66 608.52,72.10 609.08,71.53 609.65,70.94 610.21,70.34 610.78,69.72 611.35,69.02 611.91,68.20 612.48,67.28 613.05,66.33 613.61,65.37 614.18,64.46 614.74,63.64 615.31,62.97 615.88,62.47 616.44,62.20 617.01,62.17 617.57,62.18 618.14,62.21 618.71,62.24 619.27,62.28 619.84,62.32 620.41,62.37 620.97,62.43 621.54,62.49 622.10,62.55 622.67,62.61 623.24,62.67 623.80,62.73 624.37,62.79 624.93,62.84 625.50,62.88 626.07,62.93 626.63,62.96 627.20,62.98 627.76,63.00 628.33,63.00 628.90,63.00 629.46,63.00 630.03,63.00 630.60,63.00 631.16,63.00 631.73,63.00 632.29,63.00 632.86,63.00 633.43,63.00 633.99,63.00 634.56,63.00 635.12,63.00 635.69,63.00 636.26,63.00 636.82,63.00 637.39,63.00 637.96,63.00 638.52,63.00 639.09,63.00 639.65,63.00 640.22,63.00 640.79,63.00 641.35,63.00 641.92,63.00 642.48,63.00 643.05,63.00 643.62,63.00 644.18,62.99 644.75,62.97 645.32,62.95 645.88,62.93 646.45,62.90 647.01,62.87 647.58,62.83 648.15,62.79 648.71,62.75 649.28,62.70 649.84,62.65 650.41,62.60 650.98,62.54 651.54,62.49 652.11,62.42 652.67,62.36 653.24,62.30 653.81,62.23 654.37,62.16 654.94,62.09 655.51,62.02 656.07,61.95 656.64,61.88 657.20,61.81 657.77,61.74" fill="none" stroke="#b865be" stroke-width="2.5" stroke-linejoin="round" stroke-linecap="round"/>
<polygon points="567.75,102.81 568.32,102.67 568.89,103.03 569.45,104.36 570.02,105.22 570.59,105.19 571.15,105.08 571.72,104.92 572.28,104.71 572.85,104.45 573.42,104.15 573.98,103.82 574.55,103.47 575.11,103.10 575.68,102.71 576.25,102.32 576.81,101.94 577.38,101.56 577.95,101.20 578.51,100.86 579.08,100.54 579.64,100.22 580.21,99.90 580.78,99.58 581.34,99.26 581.91,98.93 582.47,98.60 583.04,98.27 583.61,97.93 584.17,97.59 584.74,97.24 585.31,96.88 585.87,96.52 586.44,96.15 587.00,95.77 587.57,95.38 588.14,94.99 588.70,94.60 589.27,94.20 589.83,93.79 590.40,93.38 590.97,92.95 591.53,92.51 592.10,92.06 592.66,91.60 593.23,91.11 593.80,90.58 594.36,90.04 594.93,89.48 595.50,88.90 596.06,88.30 596.63,87.67 597.19,87.01 597.76,86.32 598.33,85.59 598.89,84.82 599.46,84.01 600.02,83.14 600.59,82.20 601.16,81.18 601.72,80.08 602.29,78.88 602.86,77.59 603.42,76.21 603.99,74.69 604.55,72.92 605.12,70.96 605.69,68.87 606.25,66.73 606.82,64.55 607.38,62.15 607.95,59.63 608.52,57.16 609.08,54.89 609.65,52.91 610.21,51.03 610.78,49.25 611.35,47.62 611.91,46.16 612.48,44.89 613.05,43.69 613.61,42.54 614.18,41.46 614.74,40.46 615.31,39.58 615.88,38.82 616.44,38.21 617.01,37.74 617.57,37.32 618.14,36.93 618.71,36.56 619.27,36.22 619.84,35.90 620.41,35.61 620.97,35.33 621.54,35.08 622.10,34.83 622.67,34.60 623.24,34.38 623.80,34.16 624.37,33.95 624.93,33.73 625.50,33.52 626.07,33.31 626.63,33.10 627.20,32.89 627.76,32.68 628.33,32.48 628.90,32.29 629.46,32.10 630.03,31.91 630.60,31.73 631.16,31.56 631.73,31.39 632.29,31.23 632.86,31.09 633.43,30.95 633.99,30.82 634.56,30.70 635.12,30.59 635.69,30.49 636.26,30.40 636.82,30.31 637.39,30.22 637.96,30.13 638.52,30.04 639.09,29.95 639.65,29.87 640.22,29.79 640.79,29.71 641.35,29.64 641.92,29.57 642.48,29.50 643.05,29.44 643.62,29.38 644.18,29.33 644.75,29.27 645.32,29.22 645.88,29.18 646.45,29.14 647.01,29.11 647.58,29.09 648.15,29.09 648.71,29.10 649.28,29.12 649.84,29.16 650.41,29.21 650.98,29.28 651.54,29.35 652.11,29.43 652.67,29.51 653.24,29.60 653.81,29.70 654.37,29.79 654.94,29.92 655.51,30.09 656.07,30.28 656.64,30.50 657.20,30.73 657.77,30.96 657.77,34.61 657.20,34.34 656.64,34.07 656.07,33.81 655.51,33.58 654.94,33.37 654.37,33.20 653.81,33.06 653.24,32.93 652.67,32.80 652.11,32.67 651.54,32.55 650.98,32.44 650.41,32.33 649.84,32.24 649.28,32.16 648.71,32.09 648.15,32.04 647.58,32.01 647.01,31.99 646.45,31.97 645.88,31.97 645.32,31.97 644.75,31.98 644.18,32.00 643.62,32.03 643.05,32.07 642.48,32.12 641.92,32.17 641.35,32.22 640.79,32.28 640.22,32.35 639.65,32.41 639.09,32.48 638.52,32.55 637.96,32.62 637.39,32.70 636.82,32.77 636.26,32.85 635.69,32.93 635.12,33.01 634.56,33.11 633.99,33.21 633.43,33.33 632.86,33.45 632.29,33.59 631.73,33.73 631.16,33.88 630.60,34.04 630.03,34.20 629.46,34.37 628.90,34.55 628.33,34.73 627.76,34.92 627.20,35.11 626.63,35.30 626.07,35.50 625.50,35.70 624.93,35.89 624.37,36.09 623.80,36.29 623.24,36.49 622.67,36.70 622.10,36.92 621.54,37.15 620.97,37.39 620.41,37.65 619.84,37.93 619.27,38.23 618.71,38.56 618.14,38.92 617.57,39.31 617.01,39.73 616.44,40.20 615.88,40.81 615.31,41.57 614.74,42.45 614.18,43.45 613.61,44.53 613.05,45.68 612.48,46.88 611.91,48.15 611.35,49.61 610.78,51.25 610.21,53.02 609.65,54.90 609.08,56.88 608.52,59.16 607.95,61.63 607.38,64.14 606.82,66.54 606.25,68.72 605.69,70.86 605.12,72.95 604.55,74.91 603.99,76.68 603.42,78.20 602.86,79.54 602.29,80.77 601.72,81.90 601.16,82.94 600.59,83.90 600.02,84.77 599.46,85.57 598.89,86.32 598.33,87.03 597.76,87.69 597.19,88.32 596.63,88.91 596.06,89.48 595.50,90.01 594.93,90.53 594.36,91.03 593.80,91.50 593.23,91.96 592.66,92.42 592.10,92.87 591.53,93.31 590.97,93.74 590.40,94.16 589.83,94.56 589.27,94.96 588.70,95.35 588.14,95.73 587.57,96.11 587.00,96.48 586.44,96.85 585.87,97.21 585.31,97.56 584.74,97.91 584.17,98.24 583.61,98.58 583.04,98.91 582.47,99.23 581.91,99.55 581.34,99.86 580.78,100.17 580.21,100.48 579.64,100.79 579.08,101.10 578.51,101.40 577.95,101.73 577.38,102.08 576.81,102.45 576.25,102.83 575.68,103.20 575.11,103.58 574.55,103.94 573.98,104.28 573.42,104.60 572.85,104.89 572.28,105.13 571.72,105.34 571.15,105.49 570.59,105.58 570.02,105.60 569.45,104.73 568.89,103.39 568.32,103.02 567.75,103.15" fill="#000"/>
<polyline points="567.75,102.98 568.32,102.84 568.89,103.21 569.45,104.54 570.02,105.41 570.59,105.38 571.15,105.28 571.72,105.13 572.28,104.92 572.85,104.67 573.42,104.38 573.98,104.05 574.55,103.70 575.11,103.34 575.68,102.96 576.25,102.57 576.81,102.19 577.38,101.82 577.95,101.46 578.51,101.13 579.08,100.82 579.64,100.51 580.21,100.19 580.78,99.88 581.34,99.56 581.91,99.24 582.47,98.92 583.04,98.59 583.61,98.25 584.17,97.92 584.74,97.57 585.31,97.22 585.87,96.86 586.44,96.50 587.00,96.13 587.57,95.75 588.14,95.36 588.70,94.97 589.27,94.58 589.83,94.18 590.40,93.77 590.97,93.35 591.53,92.91 592.10,92.47 592.66,92.01 593.23,91.54 593.80,91.04 594.36,90.53 594.93,90.00 595.50,89.46 596.06,88.89 596.63,88.29 597.19,87.67 597.76,87.01 598.33,86.31 598.89,85.57 599.46,84.79 600.02,83.95 600.59,83.05 601.16,82.06 601.72,80.99 602.29,79.82 602.86,78.56 603.42,77.20 603.99,75.68 604.55,73.91 605.12,71.95 605.69,69.87 606.25,67.73 606.82,65.55 607.38,63.14 607.95,60.63 608.52,58.16 609.08,55.89 609.65,53.90 610.21,52.03 610.78,50.25 611.35,48.62 611.91,47.15 612.48,45.88 613.05,44.68 613.61,43.53 614.18,42.45 614.74,41.46 615.31,40.57 615.88,39.82 616.44,39.21 617.01,38.74 617.57,38.31 618.14,37.92 618.71,37.56 619.27,37.23 619.84,36.92 620.41,36.63 620.97,36.36 621.54,36.11 622.10,35.87 622.67,35.65 623.24,35.43 623.80,35.22 624.37,35.02 624.93,34.81 625.50,34.61 626.07,34.40 626.63,34.20 627.20,34.00 627.76,33.80 628.33,33.61 628.90,33.42 629.46,33.23 630.03,33.06 630.60,32.88 631.16,32.72 631.73,32.56 632.29,32.41 632.86,32.27 633.43,32.14 633.99,32.01 634.56,31.90 635.12,31.80 635.69,31.71 636.26,31.62 636.82,31.54 637.39,31.46 637.96,31.37 638.52,31.29 639.09,31.22 639.65,31.14 640.22,31.07 640.79,31.00 641.35,30.93 641.92,30.87 642.48,30.81 643.05,30.76 643.62,30.71 644.18,30.66 644.75,30.63 645.32,30.60 645.88,30.57 646.45,30.56 647.01,30.55 647.58,30.55 648.15,30.56 648.71,30.60 649.28,30.64 649.84,30.70 650.41,30.77 650.98,30.86 651.54,30.95 652.11,31.05 652.67,31.15 653.24,31.26 653.81,31.38 654.37,31.50 654.94,31.65 655.51,31.83 656.07,32.05 656.64,32.28 657.20,32.53 657.77,32.79" fill="none" stroke="#000" stroke-width="1.4" stroke-linejoin="round" stroke-linecap="round"/>
<rect x="566.55" y="101.78" width="2.40" height="2.40" fill="#000"/>
<rect x="568.08" y="102.92" width="2.40" height="2.40" fill="#000"/>
<rect x="569.61" y="104.15" width="2.40" height="2.40" fill="#000"/>
<rect x="571.13" y="103.70" width="2.40" height="2.40" fill="#000"/>
<rect x="572.66" y="102.93" width="2.40" height="2.40" fill="#000"/>
<rect x="574.18" y="101.96" width="2.40" height="2.40" fill="#000"/>
<rect x="575.71" y="100.93" width="2.40" height="2.40" fill="#000"/>
<rect x="577.23" y="99.97" width="2.40" height="2.40" fill="#000"/>
<rect x="578.76" y="99.13" width="2.40" height="2.40" fill="#000"/>
<rect x="580.29" y="98.28" width="2.40" height="2.40" fill="#000"/>
<rect x="581.81" y="97.40" width="2.40" height="2.40" fill="#000"/>
<rect x="583.34" y="96.49" width="2.40" height="2.40" fill="#000"/>
<rect x="584.86" y="95.54" width="2.40" height="2.40" fill="#000"/>
<rect x="586.39" y="94.53" width="2.40" height="2.40" fill="#000"/>
<rect x="587.91" y="93.49" width="2.40" height="2.40" fill="#000"/>
<rect x="589.44" y="92.39" width="2.40" height="2.40" fill="#000"/>
<rect x="590.97" y="91.21" width="2.40" height="2.40" fill="#000"/>
<rect x="592.49" y="89.94" width="2.40" height="2.40" fill="#000"/>
<rect x="594.02" y="88.53" width="2.40" height="2.40" fill="#000"/>
<rect x="595.54" y="86.97" width="2.40" height="2.40" fill="#000"/>
<rect x="597.07" y="85.18" width="2.40" height="2.40" fill="#000"/>
<rect x="598.59" y="83.10" width="2.40" height="2.40" fill="#000"/>
<rect x="600.12" y="80.56" width="2.40" height="2.40" fill="#000"/>
<rect x="601.65" y="77.39" width="2.40" height="2.40" fill="#000"/>
<rect x="603.17" y="73.31" width="2.40" height="2.40" fill="#000"/>
<rect x="604.70" y="67.87" width="2.40" height="2.40" fill="#000"/>
<rect x="606.22" y="61.78" width="2.40" height="2.40" fill="#000"/>
<rect x="607.75" y="55.20" width="2.40" height="2.40" fill="#000"/>
<rect x="609.27" y="50.00" width="2.40" height="2.40" fill="#000"/>
<rect x="610.80" y="45.75" width="2.40" height="2.40" fill="#000"/>
<rect x="612.33" y="42.50" width="2.40" height="2.40" fill="#000"/>
<rect x="613.85" y="39.76" width="2.40" height="2.40" fill="#000"/>
<rect x="615.38" y="37.89" width="2.40" height="2.40" fill="#000"/>
<rect x="616.90" y="36.75" width="2.40" height="2.40" fill="#000"/>
<rect x="618.43" y="35.83" width="2.40" height="2.40" fill="#000"/>
<rect x="619.95" y="35.08" width="2.40" height="2.40" fill="#000"/>
<rect x="621.48" y="34.45" width="2.40" height="2.40" fill="#000"/>
<rect x="623.01" y="33.88" width="2.40" height="2.40" fill="#000"/>
<rect x="624.53" y="33.33" width="2.40" height="2.40" fill="#000"/>
<rect x="626.06" y="32.78" width="2.40" height="2.40" fill="#000"/>
<rect x="627.58" y="32.26" width="2.40" height="2.40" fill="#000"/>
<rect x="629.11" y="31.77" width="2.40" height="2.40" fill="#000"/>
<rect x="630.63" y="31.33" width="2.40" height="2.40" fill="#000"/>
<rect x="632.16" y="30.95" width="2.40" height="2.40" fill="#000"/>
<rect x="633.68" y="30.64" width="2.40" height="2.40" fill="#000"/>
<rect x="635.21" y="30.40" width="2.40" height="2.40" fill="#000"/>
<rect x="636.74" y="30.18" width="2.40" height="2.40" fill="#000"/>
<rect x="638.26" y="29.97" width="2.40" height="2.40" fill="#000"/>
<rect x="639.79" y="29.77" width="2.40" height="2.40" fill="#000"/>
<rect x="641.31" y="29.61" width="2.40" height="2.40" fill="#000"/>
<rect x="642.84" y="29.48" width="2.40" height="2.40" fill="#000"/>
<rect x="644.36" y="29.39" width="2.40" height="2.40" fill="#000"/>
<rect x="645.89" y="29.35" width="2.40" height="2.40" fill="#000"/>
<rect x="647.42" y="29.39" width="2.40" height="2.40" fill="#000"/>
<rect x="648.94" y="29.54" width="2.40" height="2.40" fill="#000"/>
<rect x="650.47" y="29.77" width="2.40" height="2.40" fill="#000"/>
<rect x="651.99" y="30.05" width="2.40" height="2.40" fill="#000"/>
<rect x="653.52" y="30.39" width="2.40" height="2.40" fill="#000"/>
<rect x="655.04" y="30.92" width="2.40" height="2.40" fill="#000"/>
<rect x="656.57" y="31.59" width="2.40" height="2.40" fill="#000"/>
<text x="574.20" y="33.70" font-size="8.5" font-weight="bold" fill="#111" stroke="#111">PC3</text>
<rect x="605.30" y="86.00" width="17.90" height="7.00" fill="#000"/>
<rect x="605.30" y="98.10" width="17.90" height="6.90" fill="#b865be"/>
<text x="627.00" y="93.20" font-size="10.4" fill="#111" stroke="#111">siCTR</text>
<text x="627.00" y="104.60" font-size="10.4" fill="#111" stroke="#111">siHIBCH</text>
<text x="619.30" y="137.00" font-size="10.8" text-anchor="middle" font-weight="bold" fill="#111" stroke="#111">Time (h)</text>
<path d="M663.4,31.3 L665,31.3 L665,64.7 L663.4,64.7" fill="none" stroke="#555" stroke-width="0.9"/>
<text x="663.10" y="47.50" font-size="12" text-anchor="middle" letter-spacing="0.3" fill="#222" stroke="#222" transform="rotate(90 663.10 47.50)">***</text>
<polygon points="296.20,174.20 675.50,154.50 675.50,174.20" fill="url(#gSev)" stroke="#222" stroke-width="0.9"/>
<text x="491.40" y="158.40" font-size="12.7" text-anchor="middle" fill="#111" stroke="#111">PCa Disease Severity</text>
<text x="315.80" y="190.00" font-size="12.4" fill="#111" stroke="#111">Benign</text>
<text x="477.70" y="190.00" font-size="12.7" text-anchor="middle" fill="#111" stroke="#111">Androgen Sensitive</text>
<text x="675.30" y="190.00" font-size="12.7" text-anchor="end" fill="#111" stroke="#111">Castrate Resistant</text>
<text x="3.00" y="213.70" font-size="22" fill="#000" stroke="#000">c</text>
<text x="8.3" y="283.5" font-size="9.3" text-anchor="middle" fill="#222" stroke="#222" transform="rotate(-90 8.3 283.5)" dy="3.3">Relative Dead Cells (PI<tspan font-size="5.8" dy="-3.4">+ve</tspan><tspan dy="3.4">)</tspan></text>
<line x1="29.30" y1="233.22" x2="29.30" y2="339.70" stroke="#000" stroke-width="1.5"/>
<line x1="24.30" y1="339.70" x2="29.30" y2="339.70" stroke="#000" stroke-width="1.3"/>
<text x="22.80" y="343.20" font-size="10" text-anchor="end" fill="#222" stroke="#222">0</text>
<line x1="24.30" y1="313.23" x2="29.30" y2="313.23" stroke="#000" stroke-width="1.3"/>
<text x="22.80" y="316.73" font-size="10" text-anchor="end" fill="#222" stroke="#222">1</text>
<line x1="24.30" y1="286.76" x2="29.30" y2="286.76" stroke="#000" stroke-width="1.3"/>
<text x="22.80" y="290.26" font-size="10" text-anchor="end" fill="#222" stroke="#222">2</text>
<line x1="24.30" y1="260.29" x2="29.30" y2="260.29" stroke="#000" stroke-width="1.3"/>
<text x="22.80" y="263.79" font-size="10" text-anchor="end" fill="#222" stroke="#222">3</text>
<line x1="24.30" y1="233.82" x2="29.30" y2="233.82" stroke="#000" stroke-width="1.3"/>
<text x="22.80" y="237.32" font-size="10" text-anchor="end" fill="#222" stroke="#222">4</text>
<line x1="28.60" y1="339.70" x2="235.80" y2="339.70" stroke="#000" stroke-width="1.8"/>
<line x1="48.00" y1="339.70" x2="48.00" y2="344.70" stroke="#000" stroke-width="1.3"/>
<rect x="35.40" y="313.76" width="9.60" height="25.94" fill="#646464" stroke="#111" stroke-width="1.5"/>
<line x1="40.20" y1="313.76" x2="40.20" y2="312.17" stroke="#222" stroke-width="1.0"/>
<line x1="38.00" y1="312.17" x2="42.40" y2="312.17" stroke="#222" stroke-width="1.0"/>
<circle cx="38.00" cy="311.91" r="2.1" fill="#8c8c8c" stroke="#333" stroke-width="0.8"/>
<circle cx="42.40" cy="308.73" r="2.1" fill="#8c8c8c" stroke="#333" stroke-width="0.8"/>
<circle cx="39.20" cy="317.47" r="2.1" fill="#646464" stroke="#333" stroke-width="0.8"/>
<circle cx="41.00" cy="315.08" r="2.1" fill="#646464" stroke="#333" stroke-width="0.8"/>
<rect x="51.00" y="297.88" width="9.60" height="41.82" fill="#9b56b3" stroke="#111" stroke-width="1.5"/>
<line x1="55.80" y1="297.88" x2="55.80" y2="293.91" stroke="#222" stroke-width="1.0"/>
<line x1="53.60" y1="293.91" x2="58.00" y2="293.91" stroke="#222" stroke-width="1.0"/>
<circle cx="53.60" cy="288.88" r="2.1" fill="#a052c0" stroke="#333" stroke-width="0.8"/>
<circle cx="58.00" cy="288.88" r="2.1" fill="#a052c0" stroke="#333" stroke-width="0.8"/>
<circle cx="54.80" cy="301.32" r="2.1" fill="#9b56b3" stroke="#333" stroke-width="0.8"/>
<circle cx="56.60" cy="304.49" r="2.1" fill="#9b56b3" stroke="#333" stroke-width="0.8"/>
<line x1="90.10" y1="339.70" x2="90.10" y2="344.70" stroke="#000" stroke-width="1.3"/>
<rect x="77.50" y="314.29" width="9.60" height="25.41" fill="#646464" stroke="#111" stroke-width="1.5"/>
<line x1="82.30" y1="314.29" x2="82.30" y2="312.97" stroke="#222" stroke-width="1.0"/>
<line x1="80.10" y1="312.97" x2="84.50" y2="312.97" stroke="#222" stroke-width="1.0"/>
<circle cx="80.10" cy="314.55" r="2.1" fill="#646464" stroke="#333" stroke-width="0.8"/>
<circle cx="84.50" cy="312.44" r="2.1" fill="#8c8c8c" stroke="#333" stroke-width="0.8"/>
<circle cx="81.30" cy="310.05" r="2.1" fill="#8c8c8c" stroke="#333" stroke-width="0.8"/>
<circle cx="83.10" cy="315.88" r="2.1" fill="#646464" stroke="#333" stroke-width="0.8"/>
<rect x="93.10" y="278.29" width="9.60" height="61.41" fill="#9b56b3" stroke="#111" stroke-width="1.5"/>
<line x1="97.90" y1="278.29" x2="97.90" y2="267.17" stroke="#222" stroke-width="1.0"/>
<line x1="95.70" y1="267.17" x2="100.10" y2="267.17" stroke="#222" stroke-width="1.0"/>
<circle cx="95.70" cy="249.70" r="2.1" fill="#a052c0" stroke="#333" stroke-width="0.8"/>
<circle cx="100.10" cy="274.05" r="2.1" fill="#a052c0" stroke="#333" stroke-width="0.8"/>
<circle cx="96.90" cy="289.41" r="2.1" fill="#9b56b3" stroke="#333" stroke-width="0.8"/>
<circle cx="98.70" cy="294.17" r="2.1" fill="#9b56b3" stroke="#333" stroke-width="0.8"/>
<line x1="132.20" y1="339.70" x2="132.20" y2="344.70" stroke="#000" stroke-width="1.3"/>
<rect x="119.60" y="313.49" width="9.60" height="26.21" fill="#646464" stroke="#111" stroke-width="1.5"/>
<line x1="124.40" y1="313.49" x2="124.40" y2="310.32" stroke="#222" stroke-width="1.0"/>
<line x1="122.20" y1="310.32" x2="126.60" y2="310.32" stroke="#222" stroke-width="1.0"/>
<circle cx="122.20" cy="306.61" r="2.1" fill="#8c8c8c" stroke="#333" stroke-width="0.8"/>
<circle cx="126.60" cy="307.94" r="2.1" fill="#8c8c8c" stroke="#333" stroke-width="0.8"/>
<circle cx="123.40" cy="314.55" r="2.1" fill="#646464" stroke="#333" stroke-width="0.8"/>
<circle cx="125.20" cy="319.85" r="2.1" fill="#646464" stroke="#333" stroke-width="0.8"/>
<rect x="135.20" y="274.85" width="9.60" height="64.85" fill="#9b56b3" stroke="#111" stroke-width="1.5"/>
<line x1="140.00" y1="274.85" x2="140.00" y2="269.03" stroke="#222" stroke-width="1.0"/>
<line x1="137.80" y1="269.03" x2="142.20" y2="269.03" stroke="#222" stroke-width="1.0"/>
<circle cx="137.80" cy="264.26" r="2.1" fill="#a052c0" stroke="#333" stroke-width="0.8"/>
<circle cx="142.20" cy="262.94" r="2.1" fill="#a052c0" stroke="#333" stroke-width="0.8"/>
<circle cx="139.00" cy="276.17" r="2.1" fill="#9b56b3" stroke="#333" stroke-width="0.8"/>
<circle cx="140.80" cy="286.23" r="2.1" fill="#9b56b3" stroke="#333" stroke-width="0.8"/>
<line x1="174.20" y1="339.70" x2="174.20" y2="344.70" stroke="#000" stroke-width="1.3"/>
<rect x="161.60" y="313.49" width="9.60" height="26.21" fill="#646464" stroke="#111" stroke-width="1.5"/>
<line x1="166.40" y1="313.49" x2="166.40" y2="310.05" stroke="#222" stroke-width="1.0"/>
<line x1="164.20" y1="310.05" x2="168.60" y2="310.05" stroke="#222" stroke-width="1.0"/>
<circle cx="164.20" cy="303.70" r="2.1" fill="#8c8c8c" stroke="#333" stroke-width="0.8"/>
<circle cx="168.60" cy="310.58" r="2.1" fill="#8c8c8c" stroke="#333" stroke-width="0.8"/>
<circle cx="165.40" cy="315.88" r="2.1" fill="#646464" stroke="#333" stroke-width="0.8"/>
<circle cx="167.20" cy="319.85" r="2.1" fill="#646464" stroke="#333" stroke-width="0.8"/>
<rect x="177.20" y="284.11" width="9.60" height="55.59" fill="#9b56b3" stroke="#111" stroke-width="1.5"/>
<line x1="182.00" y1="284.11" x2="182.00" y2="278.29" stroke="#222" stroke-width="1.0"/>
<line x1="179.80" y1="278.29" x2="184.20" y2="278.29" stroke="#222" stroke-width="1.0"/>
<circle cx="179.80" cy="270.35" r="2.1" fill="#a052c0" stroke="#333" stroke-width="0.8"/>
<circle cx="184.20" cy="276.17" r="2.1" fill="#a052c0" stroke="#333" stroke-width="0.8"/>
<circle cx="181.00" cy="286.76" r="2.1" fill="#9b56b3" stroke="#333" stroke-width="0.8"/>
<circle cx="182.80" cy="293.38" r="2.1" fill="#9b56b3" stroke="#333" stroke-width="0.8"/>
<line x1="216.30" y1="339.70" x2="216.30" y2="344.70" stroke="#000" stroke-width="1.3"/>
<rect x="203.70" y="313.49" width="9.60" height="26.21" fill="#646464" stroke="#111" stroke-width="1.5"/>
<line x1="208.50" y1="313.49" x2="208.50" y2="311.64" stroke="#222" stroke-width="1.0"/>
<line x1="206.30" y1="311.64" x2="210.70" y2="311.64" stroke="#222" stroke-width="1.0"/>
<circle cx="206.30" cy="307.94" r="2.1" fill="#8c8c8c" stroke="#333" stroke-width="0.8"/>
<circle cx="210.70" cy="312.70" r="2.1" fill="#8c8c8c" stroke="#333" stroke-width="0.8"/>
<circle cx="207.50" cy="314.29" r="2.1" fill="#646464" stroke="#333" stroke-width="0.8"/>
<circle cx="209.30" cy="315.88" r="2.1" fill="#646464" stroke="#333" stroke-width="0.8"/>
<rect x="219.30" y="310.05" width="9.60" height="29.65" fill="#9b56b3" stroke="#111" stroke-width="1.5"/>
<line x1="224.10" y1="310.05" x2="224.10" y2="308.20" stroke="#222" stroke-width="1.0"/>
<line x1="221.90" y1="308.20" x2="226.30" y2="308.20" stroke="#222" stroke-width="1.0"/>
<circle cx="221.90" cy="303.97" r="2.1" fill="#a052c0" stroke="#333" stroke-width="0.8"/>
<circle cx="226.30" cy="306.61" r="2.1" fill="#a052c0" stroke="#333" stroke-width="0.8"/>
<circle cx="223.10" cy="310.58" r="2.1" fill="#9b56b3" stroke="#333" stroke-width="0.8"/>
<circle cx="224.90" cy="311.91" r="2.1" fill="#9b56b3" stroke="#333" stroke-width="0.8"/>
<text x="34.40" y="278.60" font-size="8.5" fill="#222" stroke="#222">ns, p=0.06</text>
<path d="M82.0,302.6 L82.0,241.2 L98.2,241.2 L98.2,251.0" fill="none" stroke="#111" stroke-width="1.1"/>
<text x="90.10" y="240.72" font-size="10.5" text-anchor="middle" fill="#222" stroke="#222">***</text>
<path d="M123.7,299.7 L123.7,247.5 L140.2,247.5 L140.2,256.0" fill="none" stroke="#111" stroke-width="1.1"/>
<text x="131.95" y="246.92" font-size="10.5" text-anchor="middle" fill="#222" stroke="#222">****</text>
<path d="M166.2,296.9 L166.2,255.0 L182.0,255.0 L182.0,262.7" fill="none" stroke="#111" stroke-width="1.1"/>
<text x="174.10" y="255.02" font-size="10.5" text-anchor="middle" fill="#222" stroke="#222">***</text>
<path d="M208.3,303.5 L208.3,287.4 L224.4,287.4 L224.4,297.8" fill="none" stroke="#111" stroke-width="1.1"/>
<text x="216.30" y="284.50" font-size="11" text-anchor="middle" fill="#222" stroke="#222">ns</text>
<circle cx="191.80" cy="247.50" r="3.1" fill="#8c8c8c" stroke="#333" stroke-width="0.8"/>
<circle cx="191.80" cy="259.20" r="3.1" fill="#a052c0" stroke="#333" stroke-width="0.8"/>
<text x="195.20" y="251.40" font-size="10.8" fill="#222" stroke="#222">siCTR</text>
<text x="195.20" y="263.10" font-size="10.8" fill="#222" stroke="#222">siHIBCH</text>
<text x="48.20" y="357.90" font-size="10.6" text-anchor="middle" fill="#222" stroke="#222">LNCaP</text>
<text x="48.20" y="366.30" font-size="6.4" text-anchor="middle" fill="#333" stroke="#333">(-ENZ)</text>
<text x="90.30" y="357.90" font-size="10.6" text-anchor="middle" fill="#222" stroke="#222">LNCaP</text>
<text x="90.30" y="366.30" font-size="6.4" text-anchor="middle" fill="#333" stroke="#333">(+ENZ)</text>
<text x="132.40" y="357.90" font-size="10.6" text-anchor="middle" fill="#222" stroke="#222">V16D</text>
<text x="132.40" y="366.30" font-size="6.4" text-anchor="middle" fill="#333" stroke="#333">(CRPC)</text>
<text x="174.40" y="357.90" font-size="10.6" text-anchor="middle" fill="#222" stroke="#222">MR49F</text>
<text x="174.40" y="366.30" font-size="6.4" text-anchor="middle" fill="#333" stroke="#333">(ENZ<tspan font-size="4.5" dy="-2.5">R</tspan><tspan dy="2.5">)</tspan></text>
<text x="216.50" y="357.90" font-size="10.6" text-anchor="middle" fill="#222" stroke="#222">MR42D</text>
<text x="216.50" y="366.30" font-size="6.4" text-anchor="middle" fill="#333" stroke="#333">(NEPC)</text>
<text x="243.50" y="215.00" font-size="22" fill="#000" stroke="#000">d</text>
<rect x="279.50" y="249.60" width="27.40" height="20.90" fill="#ffffff"/>
<rect x="306.90" y="249.60" width="27.40" height="20.90" fill="#ffffff"/>
<rect x="334.30" y="249.60" width="27.50" height="20.90" fill="#ffffff"/>
<rect x="361.80" y="249.60" width="27.40" height="20.90" fill="#4a5db0"/>
<rect x="389.20" y="249.60" width="27.40" height="20.90" fill="#4a5db0"/>
<rect x="416.60" y="249.60" width="27.40" height="20.90" fill="#4a5db0"/>
<rect x="279.50" y="270.50" width="27.40" height="20.90" fill="#ffffff"/>
<rect x="306.90" y="270.50" width="27.40" height="20.90" fill="#ffffff"/>
<rect x="334.30" y="270.50" width="27.50" height="20.90" fill="#ffffff"/>
<rect x="361.80" y="270.50" width="27.40" height="20.90" fill="#e8e9f5"/>
<rect x="389.20" y="270.50" width="27.40" height="20.90" fill="#b9bce2"/>
<rect x="416.60" y="270.50" width="27.40" height="20.90" fill="#a2a6d8"/>
<rect x="279.50" y="291.40" width="27.40" height="20.90" fill="#ffffff"/>
<rect x="306.90" y="291.40" width="27.40" height="20.90" fill="#ffffff"/>
<rect x="334.30" y="291.40" width="27.50" height="20.90" fill="#ffffff"/>
<rect x="361.80" y="291.40" width="27.40" height="20.90" fill="#dedff0"/>
<rect x="389.20" y="291.40" width="27.40" height="20.90" fill="#cdcee9"/>
<rect x="416.60" y="291.40" width="27.40" height="20.90" fill="#e4e5f3"/>
<rect x="279.50" y="312.30" width="27.40" height="20.90" fill="#ffffff"/>
<rect x="306.90" y="312.30" width="27.40" height="20.90" fill="#ffffff"/>
<rect x="334.30" y="312.30" width="27.50" height="20.90" fill="#ffffff"/>
<rect x="361.80" y="312.30" width="27.40" height="20.90" fill="#ffffff"/>
<rect x="389.20" y="312.30" width="27.40" height="20.90" fill="#cdcee9"/>
<rect x="416.60" y="312.30" width="27.40" height="20.90" fill="#d0d1eb"/>
<rect x="279.50" y="333.20" width="27.40" height="20.90" fill="#ffffff"/>
<rect x="306.90" y="333.20" width="27.40" height="20.90" fill="#ffffff"/>
<rect x="334.30" y="333.20" width="27.50" height="20.90" fill="#ffffff"/>
<rect x="361.80" y="333.20" width="27.40" height="20.90" fill="#d4d4ec"/>
<rect x="389.20" y="333.20" width="27.40" height="20.90" fill="#c8c8e6"/>
<rect x="416.60" y="333.20" width="27.40" height="20.90" fill="#d4d4ec"/>
<line x1="279.50" y1="249.00" x2="279.50" y2="354.70" stroke="#1a1a1a" stroke-width="1.3"/>
<line x1="306.90" y1="249.00" x2="306.90" y2="354.70" stroke="#1a1a1a" stroke-width="1.3"/>
<line x1="334.30" y1="249.00" x2="334.30" y2="354.70" stroke="#1a1a1a" stroke-width="1.3"/>
<line x1="361.80" y1="249.00" x2="361.80" y2="354.70" stroke="#1a1a1a" stroke-width="1.3"/>
<line x1="389.20" y1="249.00" x2="389.20" y2="354.70" stroke="#1a1a1a" stroke-width="1.3"/>
<line x1="416.60" y1="249.00" x2="416.60" y2="354.70" stroke="#1a1a1a" stroke-width="1.3"/>
<line x1="444.00" y1="249.00" x2="444.00" y2="354.70" stroke="#1a1a1a" stroke-width="1.3"/>
<line x1="279.50" y1="249.60" x2="444.00" y2="249.60" stroke="#1a1a1a" stroke-width="1.3"/>
<line x1="279.50" y1="270.50" x2="444.00" y2="270.50" stroke="#1a1a1a" stroke-width="1.3"/>
<line x1="279.50" y1="291.40" x2="444.00" y2="291.40" stroke="#1a1a1a" stroke-width="1.3"/>
<line x1="279.50" y1="312.30" x2="444.00" y2="312.30" stroke="#1a1a1a" stroke-width="1.3"/>
<line x1="279.50" y1="333.20" x2="444.00" y2="333.20" stroke="#1a1a1a" stroke-width="1.3"/>
<line x1="279.50" y1="354.10" x2="444.00" y2="354.10" stroke="#1a1a1a" stroke-width="1.3"/>
<text x="293.20" y="263.25" font-size="9.0" text-anchor="middle" fill="#1a1a1a" stroke="#1a1a1a">1.00</text>
<text x="320.60" y="263.25" font-size="9.0" text-anchor="middle" fill="#1a1a1a" stroke="#1a1a1a">1.00</text>
<text x="348.05" y="263.25" font-size="9.0" text-anchor="middle" fill="#1a1a1a" stroke="#1a1a1a">1.00</text>
<text x="375.50" y="263.25" font-size="9.0" text-anchor="middle" fill="#1a1a1a" stroke="#1a1a1a">0.02</text>
<text x="402.90" y="263.25" font-size="9.0" text-anchor="middle" fill="#1a1a1a" stroke="#1a1a1a">0.02</text>
<text x="430.30" y="263.25" font-size="9.0" text-anchor="middle" fill="#1a1a1a" stroke="#1a1a1a">0.02</text>
<text x="293.20" y="284.15" font-size="9.0" text-anchor="middle" fill="#1a1a1a" stroke="#1a1a1a">1.00</text>
<text x="320.60" y="284.15" font-size="9.0" text-anchor="middle" fill="#1a1a1a" stroke="#1a1a1a">1.00</text>
<text x="348.05" y="284.15" font-size="9.0" text-anchor="middle" fill="#1a1a1a" stroke="#1a1a1a">1.00</text>
<text x="375.50" y="284.15" font-size="9.0" text-anchor="middle" fill="#1a1a1a" stroke="#1a1a1a">0.90</text>
<text x="402.90" y="284.15" font-size="9.0" text-anchor="middle" fill="#1a1a1a" stroke="#1a1a1a">0.64</text>
<text x="430.30" y="284.15" font-size="9.0" text-anchor="middle" fill="#1a1a1a" stroke="#1a1a1a">0.52</text>
<text x="293.20" y="305.05" font-size="9.0" text-anchor="middle" fill="#1a1a1a" stroke="#1a1a1a">1.00</text>
<text x="320.60" y="305.05" font-size="9.0" text-anchor="middle" fill="#1a1a1a" stroke="#1a1a1a">1.00</text>
<text x="348.05" y="305.05" font-size="9.0" text-anchor="middle" fill="#1a1a1a" stroke="#1a1a1a">1.00</text>
<text x="375.50" y="305.05" font-size="9.0" text-anchor="middle" fill="#1a1a1a" stroke="#1a1a1a">0.84</text>
<text x="402.90" y="305.05" font-size="9.0" text-anchor="middle" fill="#1a1a1a" stroke="#1a1a1a">0.76</text>
<text x="430.30" y="305.05" font-size="9.0" text-anchor="middle" fill="#1a1a1a" stroke="#1a1a1a">0.88</text>
<text x="293.20" y="325.95" font-size="9.0" text-anchor="middle" fill="#1a1a1a" stroke="#1a1a1a">1.00</text>
<text x="320.60" y="325.95" font-size="9.0" text-anchor="middle" fill="#1a1a1a" stroke="#1a1a1a">1.00</text>
<text x="348.05" y="325.95" font-size="9.0" text-anchor="middle" fill="#1a1a1a" stroke="#1a1a1a">1.00</text>
<text x="375.50" y="325.95" font-size="9.0" text-anchor="middle" fill="#1a1a1a" stroke="#1a1a1a">1.01</text>
<text x="402.90" y="325.95" font-size="9.0" text-anchor="middle" fill="#1a1a1a" stroke="#1a1a1a">0.76</text>
<text x="430.30" y="325.95" font-size="9.0" text-anchor="middle" fill="#1a1a1a" stroke="#1a1a1a">0.77</text>
<text x="293.20" y="346.85" font-size="9.0" text-anchor="middle" fill="#1a1a1a" stroke="#1a1a1a">1.00</text>
<text x="320.60" y="346.85" font-size="9.0" text-anchor="middle" fill="#1a1a1a" stroke="#1a1a1a">1.00</text>
<text x="348.05" y="346.85" font-size="9.0" text-anchor="middle" fill="#1a1a1a" stroke="#1a1a1a">1.00</text>
<text x="375.50" y="346.85" font-size="9.0" text-anchor="middle" fill="#1a1a1a" stroke="#1a1a1a">0.79</text>
<text x="402.90" y="346.85" font-size="9.0" text-anchor="middle" fill="#1a1a1a" stroke="#1a1a1a">0.73</text>
<text x="430.30" y="346.85" font-size="9.0" text-anchor="middle" fill="#1a1a1a" stroke="#1a1a1a">0.79</text>
<text x="276.30" y="263.25" font-size="8.7" text-anchor="end" fill="#222" stroke="#222">HIBCH</text>
<line x1="276.30" y1="260.05" x2="279.50" y2="260.05" stroke="#222" stroke-width="1"/>
<text x="276.30" y="284.15" font-size="8.7" text-anchor="end" fill="#222" stroke="#222">MCEE</text>
<line x1="276.30" y1="280.95" x2="279.50" y2="280.95" stroke="#222" stroke-width="1"/>
<text x="276.30" y="305.05" font-size="8.7" text-anchor="end" fill="#222" stroke="#222">MUT</text>
<line x1="276.30" y1="301.85" x2="279.50" y2="301.85" stroke="#222" stroke-width="1"/>
<text x="276.30" y="325.95" font-size="8.7" text-anchor="end" fill="#222" stroke="#222">PCCA</text>
<line x1="276.30" y1="322.75" x2="279.50" y2="322.75" stroke="#222" stroke-width="1"/>
<text x="276.30" y="346.85" font-size="8.7" text-anchor="end" fill="#222" stroke="#222">PCCB</text>
<line x1="276.30" y1="343.65" x2="279.50" y2="343.65" stroke="#222" stroke-width="1"/>
<text x="293.20" y="245.80" font-size="10.6" text-anchor="middle" fill="#222" stroke="#222">48h</text>
<text x="320.60" y="245.80" font-size="10.6" text-anchor="middle" fill="#222" stroke="#222">72h</text>
<text x="348.05" y="245.80" font-size="10.6" text-anchor="middle" fill="#222" stroke="#222">96h</text>
<text x="375.50" y="245.80" font-size="10.6" text-anchor="middle" fill="#222" stroke="#222">48h</text>
<text x="402.90" y="245.80" font-size="10.6" text-anchor="middle" fill="#222" stroke="#222">72h</text>
<text x="430.30" y="245.80" font-size="10.6" text-anchor="middle" fill="#222" stroke="#222">96h</text>
<text x="320.40" y="230.50" font-size="15.0" text-anchor="middle" fill="#222" stroke="#222">siCTR</text>
<text x="405.40" y="230.50" font-size="15.2" text-anchor="middle" fill="#222" stroke="#222">siHIBCH</text>
<line x1="282.00" y1="234.30" x2="360.00" y2="234.30" stroke="#222" stroke-width="1.3"/>
<line x1="364.00" y1="234.30" x2="441.50" y2="234.30" stroke="#222" stroke-width="1.3"/>
<rect x="450.30" y="252.60" width="7.00" height="101.30" fill="url(#gCbar)" stroke="#111" stroke-width="1.4"/>
<text x="459.20" y="257.50" font-size="7.2" fill="#222" stroke="#222">2</text>
<text x="459.20" y="306.00" font-size="7.2" fill="#222" stroke="#222">1</text>
<text x="459.20" y="353.50" font-size="7.2" fill="#222" stroke="#222">0</text>
<text x="472.60" y="301.60" font-size="9.95" text-anchor="middle" fill="#222" stroke="#222" transform="rotate(-90 472.60 301.60)">Fold Change (mRNA)</text>
<text x="390.60" y="366.00" font-size="10.4" text-anchor="middle" fill="#222" stroke="#222">qRT-PCR (rel. ΔΔCT)</text>
<text x="489.50" y="213.50" font-size="22" fill="#000" stroke="#000">e</text>
<text x="498.30" y="305.80" font-size="9.84" text-anchor="middle" font-weight="bold" fill="#111" stroke="#111" transform="rotate(-90 498.30 305.80)">Relative ΔΔ CT</text>
<line x1="513.30" y1="270.30" x2="513.30" y2="345.60" stroke="#000" stroke-width="1.4"/>
<line x1="509.90" y1="345.60" x2="513.30" y2="345.60" stroke="#000" stroke-width="1.1"/>
<text x="508.70" y="347.70" font-size="6.0" text-anchor="end" fill="#222" stroke="#222">0.0</text>
<line x1="509.90" y1="308.20" x2="513.30" y2="308.20" stroke="#000" stroke-width="1.1"/>
<text x="508.70" y="310.30" font-size="6.0" text-anchor="end" fill="#222" stroke="#222">0.5</text>
<line x1="509.90" y1="270.80" x2="513.30" y2="270.80" stroke="#000" stroke-width="1.1"/>
<text x="508.70" y="272.90" font-size="6.0" text-anchor="end" fill="#222" stroke="#222">1.0</text>
<line x1="512.60" y1="345.60" x2="557.00" y2="345.60" stroke="#000" stroke-width="1.5"/>
<rect x="517.40" y="270.80" width="8.20" height="74.80" fill="#9b9b9b" stroke="#111" stroke-width="1.4"/>
<line x1="521.50" y1="345.60" x2="521.50" y2="349.20" stroke="#000" stroke-width="1.1"/>
<text x="522.70" y="352.80" font-size="7.5" text-anchor="end" font-weight="bold" fill="#111" stroke="#111" transform="rotate(-45 522.70 352.80)">shNT</text>
<line x1="534.60" y1="308.95" x2="534.60" y2="303.71" stroke="#111" stroke-width="1.1"/>
<line x1="532.10" y1="303.71" x2="537.10" y2="303.71" stroke="#111" stroke-width="1.1"/>
<rect x="530.60" y="308.95" width="8.00" height="36.65" fill="#c48dd1" stroke="#111" stroke-width="1.4"/>
<line x1="534.60" y1="345.60" x2="534.60" y2="349.20" stroke="#000" stroke-width="1.1"/>
<text x="535.80" y="352.80" font-size="7.5" text-anchor="end" font-weight="bold" fill="#111" stroke="#111" transform="rotate(-45 535.80 352.80)">shHIBCH1</text>
<line x1="547.30" y1="323.91" x2="547.30" y2="322.04" stroke="#111" stroke-width="1.1"/>
<line x1="544.80" y1="322.04" x2="549.80" y2="322.04" stroke="#111" stroke-width="1.1"/>
<rect x="543.20" y="323.91" width="8.20" height="21.69" fill="#c48dd1" stroke="#111" stroke-width="1.4"/>
<line x1="547.30" y1="345.60" x2="547.30" y2="349.20" stroke="#000" stroke-width="1.1"/>
<text x="548.50" y="352.80" font-size="7.5" text-anchor="end" font-weight="bold" fill="#111" stroke="#111" transform="rotate(-45 548.50 352.80)">shHIBCH2</text>
<text x="532.20" y="229.90" font-size="11.9" text-anchor="middle" font-weight="bold" fill="#111" stroke="#111">HIBCH</text>
<path d="M521.5,267.0 L521.5,260.8 L534.6,260.8 L534.6,299.6" fill="none" stroke="#111" stroke-width="1.2"/>
<text x="528.05" y="262.79" font-size="11.5" text-anchor="middle" fill="#111" stroke="#111">**</text>
<path d="M521.5,250.0 L521.5,244.0 L547.3,244.0 L547.3,319.5" fill="none" stroke="#111" stroke-width="1.2"/>
<text x="534.40" y="246.49" font-size="11.5" text-anchor="middle" fill="#111" stroke="#111">***</text>
<line x1="575.80" y1="269.10" x2="575.80" y2="345.90" stroke="#000" stroke-width="1.4"/>
<line x1="572.40" y1="345.90" x2="575.80" y2="345.90" stroke="#000" stroke-width="1.1"/>
<text x="571.20" y="348.00" font-size="6.0" text-anchor="end" fill="#222" stroke="#222">0.0</text>
<line x1="572.40" y1="307.75" x2="575.80" y2="307.75" stroke="#000" stroke-width="1.1"/>
<text x="571.20" y="309.85" font-size="6.0" text-anchor="end" fill="#222" stroke="#222">0.5</text>
<line x1="572.40" y1="269.60" x2="575.80" y2="269.60" stroke="#000" stroke-width="1.1"/>
<text x="571.20" y="271.70" font-size="6.0" text-anchor="end" fill="#222" stroke="#222">1.0</text>
<line x1="575.10" y1="345.90" x2="620.00" y2="345.90" stroke="#000" stroke-width="1.5"/>
<rect x="580.60" y="269.60" width="8.00" height="76.30" fill="#9b9b9b" stroke="#111" stroke-width="1.4"/>
<line x1="584.60" y1="345.90" x2="584.60" y2="349.50" stroke="#000" stroke-width="1.1"/>
<text x="585.80" y="353.10" font-size="7.5" text-anchor="end" font-weight="bold" fill="#111" stroke="#111" transform="rotate(-45 585.80 353.10)">shNT</text>
<line x1="597.30" y1="304.32" x2="597.30" y2="300.12" stroke="#111" stroke-width="1.1"/>
<line x1="594.80" y1="300.12" x2="599.80" y2="300.12" stroke="#111" stroke-width="1.1"/>
<rect x="593.30" y="304.32" width="8.00" height="41.58" fill="#c48dd1" stroke="#111" stroke-width="1.4"/>
<line x1="597.30" y1="345.90" x2="597.30" y2="349.50" stroke="#000" stroke-width="1.1"/>
<text x="598.50" y="353.10" font-size="7.5" text-anchor="end" font-weight="bold" fill="#111" stroke="#111" transform="rotate(-45 598.50 353.10)">shHIBCH1</text>
<line x1="610.60" y1="308.13" x2="610.60" y2="297.83" stroke="#111" stroke-width="1.1"/>
<line x1="608.10" y1="297.83" x2="613.10" y2="297.83" stroke="#111" stroke-width="1.1"/>
<rect x="606.60" y="308.13" width="8.00" height="37.77" fill="#c48dd1" stroke="#111" stroke-width="1.4"/>
<line x1="610.60" y1="345.90" x2="610.60" y2="349.50" stroke="#000" stroke-width="1.1"/>
<text x="611.80" y="353.10" font-size="7.5" text-anchor="end" font-weight="bold" fill="#111" stroke="#111" transform="rotate(-45 611.80 353.10)">shHIBCH2</text>
<text x="596.00" y="229.90" font-size="11.9" text-anchor="middle" font-weight="bold" fill="#111" stroke="#111">SDHA</text>
<path d="M584.6,266.0 L584.6,259.8 L597.3,259.8 L597.3,295.0" fill="none" stroke="#111" stroke-width="1.2"/>
<text x="590.95" y="261.49" font-size="11.5" text-anchor="middle" fill="#111" stroke="#111">*</text>
<path d="M584.6,249.0 L584.6,242.7 L610.6,242.7 L610.6,293.0" fill="none" stroke="#111" stroke-width="1.2"/>
<text x="597.60" y="244.39" font-size="11.5" text-anchor="middle" fill="#111" stroke="#111">*</text>
<line x1="640.40" y1="270.10" x2="640.40" y2="345.90" stroke="#000" stroke-width="1.4"/>
<line x1="637.00" y1="345.90" x2="640.40" y2="345.90" stroke="#000" stroke-width="1.1"/>
<text x="635.80" y="348.00" font-size="6.0" text-anchor="end" fill="#222" stroke="#222">0.0</text>
<line x1="637.00" y1="308.25" x2="640.40" y2="308.25" stroke="#000" stroke-width="1.1"/>
<text x="635.80" y="310.35" font-size="6.0" text-anchor="end" fill="#222" stroke="#222">0.5</text>
<line x1="637.00" y1="270.60" x2="640.40" y2="270.60" stroke="#000" stroke-width="1.1"/>
<text x="635.80" y="272.70" font-size="6.0" text-anchor="end" fill="#222" stroke="#222">1.0</text>
<line x1="639.70" y1="345.90" x2="683.80" y2="345.90" stroke="#000" stroke-width="1.5"/>
<rect x="644.40" y="270.60" width="8.20" height="75.30" fill="#9b9b9b" stroke="#111" stroke-width="1.4"/>
<line x1="648.50" y1="345.90" x2="648.50" y2="349.50" stroke="#000" stroke-width="1.1"/>
<text x="649.70" y="353.10" font-size="7.5" text-anchor="end" font-weight="bold" fill="#111" stroke="#111" transform="rotate(-45 649.70 353.10)">shNT</text>
<line x1="661.40" y1="293.94" x2="661.40" y2="287.17" stroke="#111" stroke-width="1.1"/>
<line x1="658.90" y1="287.17" x2="663.90" y2="287.17" stroke="#111" stroke-width="1.1"/>
<rect x="657.40" y="293.94" width="8.00" height="51.96" fill="#c48dd1" stroke="#111" stroke-width="1.4"/>
<line x1="661.40" y1="345.90" x2="661.40" y2="349.50" stroke="#000" stroke-width="1.1"/>
<text x="662.60" y="353.10" font-size="7.5" text-anchor="end" font-weight="bold" fill="#111" stroke="#111" transform="rotate(-45 662.60 353.10)">shHIBCH1</text>
<line x1="674.40" y1="299.21" x2="674.40" y2="293.94" stroke="#111" stroke-width="1.1"/>
<line x1="671.90" y1="293.94" x2="676.90" y2="293.94" stroke="#111" stroke-width="1.1"/>
<rect x="670.40" y="299.21" width="8.00" height="46.69" fill="#c48dd1" stroke="#111" stroke-width="1.4"/>
<line x1="674.40" y1="345.90" x2="674.40" y2="349.50" stroke="#000" stroke-width="1.1"/>
<text x="675.60" y="353.10" font-size="7.5" text-anchor="end" font-weight="bold" fill="#111" stroke="#111" transform="rotate(-45 675.60 353.10)">shHIBCH2</text>
<text x="660.00" y="229.90" font-size="11.9" text-anchor="middle" font-weight="bold" fill="#111" stroke="#111">SUCLG2</text>
<path d="M648.5,267.0 L648.5,260.8 L661.4,260.8 L661.4,286.0" fill="none" stroke="#111" stroke-width="1.2"/>
<text x="654.95" y="262.79" font-size="11.5" text-anchor="middle" fill="#111" stroke="#111">*</text>
<path d="M648.5,250.0 L648.5,244.0 L674.4,244.0 L674.4,291.0" fill="none" stroke="#111" stroke-width="1.2"/>
<text x="661.45" y="245.89" font-size="11.5" text-anchor="middle" fill="#111" stroke="#111">*</text>
<text x="0.50" y="418.00" font-size="22" fill="#000" stroke="#000">f</text>
<rect x="95.00" y="404.50" width="34.30" height="16.64" fill="#fff"/>
<rect x="129.30" y="404.50" width="33.90" height="16.64" fill="#f0f0f6"/>
<rect x="95.00" y="421.14" width="34.30" height="16.64" fill="#fff"/>
<rect x="129.30" y="421.14" width="33.90" height="16.64" fill="#4858aa"/>
<rect x="95.00" y="437.79" width="34.30" height="16.64" fill="#fff"/>
<rect x="129.30" y="437.79" width="33.90" height="16.64" fill="#9696d0"/>
<rect x="95.00" y="454.43" width="34.30" height="16.64" fill="#fff"/>
<rect x="129.30" y="454.43" width="33.90" height="16.64" fill="#eaeaf4"/>
<rect x="95.00" y="471.08" width="34.30" height="16.64" fill="#fff"/>
<rect x="129.30" y="471.08" width="33.90" height="16.64" fill="#fcf3f5"/>
<rect x="95.00" y="487.72" width="34.30" height="16.64" fill="#fff"/>
<rect x="129.30" y="487.72" width="33.90" height="16.64" fill="#aaaada"/>
<rect x="95.00" y="504.37" width="34.30" height="16.64" fill="#fff"/>
<rect x="129.30" y="504.37" width="33.90" height="16.64" fill="#9494ce"/>
<rect x="95.00" y="521.01" width="34.30" height="16.64" fill="#fff"/>
<rect x="129.30" y="521.01" width="33.90" height="16.64" fill="#8284c6"/>
<rect x="95.00" y="537.66" width="34.30" height="16.64" fill="#fff"/>
<rect x="129.30" y="537.66" width="33.90" height="16.64" fill="#cccce8"/>
<line x1="95.00" y1="404.50" x2="163.20" y2="404.50" stroke="#1a1a1a" stroke-width="1.3"/>
<line x1="95.00" y1="421.14" x2="163.20" y2="421.14" stroke="#1a1a1a" stroke-width="1.3"/>
<line x1="95.00" y1="437.79" x2="163.20" y2="437.79" stroke="#1a1a1a" stroke-width="1.3"/>
<line x1="95.00" y1="454.43" x2="163.20" y2="454.43" stroke="#1a1a1a" stroke-width="1.3"/>
<line x1="95.00" y1="471.08" x2="163.20" y2="471.08" stroke="#1a1a1a" stroke-width="1.3"/>
<line x1="95.00" y1="487.72" x2="163.20" y2="487.72" stroke="#1a1a1a" stroke-width="1.3"/>
<line x1="95.00" y1="504.37" x2="163.20" y2="504.37" stroke="#1a1a1a" stroke-width="1.3"/>
<line x1="95.00" y1="521.01" x2="163.20" y2="521.01" stroke="#1a1a1a" stroke-width="1.3"/>
<line x1="95.00" y1="537.66" x2="163.20" y2="537.66" stroke="#1a1a1a" stroke-width="1.3"/>
<line x1="95.00" y1="554.30" x2="163.20" y2="554.30" stroke="#1a1a1a" stroke-width="1.3"/>
<line x1="95.00" y1="403.90" x2="95.00" y2="554.90" stroke="#1a1a1a" stroke-width="1.3"/>
<line x1="129.30" y1="403.90" x2="129.30" y2="554.90" stroke="#1a1a1a" stroke-width="1.3"/>
<line x1="163.20" y1="403.90" x2="163.20" y2="554.90" stroke="#1a1a1a" stroke-width="1.3"/>
<line x1="89.20" y1="412.82" x2="95.00" y2="412.82" stroke="#222" stroke-width="1.1"/>
<text x="84.90" y="416.42" font-size="10" text-anchor="end" fill="#1a1a1a" stroke="#1a1a1a">Acetyl-CoA</text>
<text x="112.15" y="416.42" font-size="9.4" text-anchor="middle" fill="#222" stroke="#222">1.00</text>
<text x="146.25" y="416.42" font-size="9.4" text-anchor="middle" fill="#222" stroke="#222">0.94</text>
<line x1="89.20" y1="429.47" x2="95.00" y2="429.47" stroke="#222" stroke-width="1.1"/>
<text x="84.90" y="433.07" font-size="10" text-anchor="end" fill="#1a1a1a" stroke="#1a1a1a">Citrate</text>
<text x="112.15" y="433.07" font-size="9.4" text-anchor="middle" fill="#222" stroke="#222">1.00</text>
<text x="146.25" y="434.77" font-size="9.4" text-anchor="middle" fill="#fff" stroke="#fff">0.22</text>
<text x="146.25" y="427.47" font-size="5.5" text-anchor="middle" font-weight="bold" fill="#fff" stroke="#fff">****</text>
<line x1="89.20" y1="446.11" x2="95.00" y2="446.11" stroke="#222" stroke-width="1.1"/>
<text x="84.90" y="449.71" font-size="10" text-anchor="end" fill="#1a1a1a" stroke="#1a1a1a">Aconitate</text>
<text x="112.15" y="449.71" font-size="9.4" text-anchor="middle" fill="#222" stroke="#222">1.00</text>
<text x="146.25" y="451.41" font-size="9.4" text-anchor="middle" fill="#222" stroke="#222">0.60</text>
<text x="146.25" y="444.11" font-size="5.5" text-anchor="middle" font-weight="bold" fill="#222" stroke="#222">***</text>
<line x1="89.20" y1="462.76" x2="95.00" y2="462.76" stroke="#222" stroke-width="1.1"/>
<text x="84.90" y="466.36" font-size="10" text-anchor="end" fill="#1a1a1a" stroke="#1a1a1a">Isocitrate</text>
<text x="112.15" y="466.36" font-size="9.4" text-anchor="middle" fill="#222" stroke="#222">1.00</text>
<text x="146.25" y="466.36" font-size="9.4" text-anchor="middle" fill="#222" stroke="#222">0.91</text>
<line x1="89.20" y1="479.40" x2="95.00" y2="479.40" stroke="#222" stroke-width="1.1"/>
<text x="84.6" y="483.00" font-size="10" text-anchor="end" fill="#1a1a1a" stroke="#1a1a1a"><tspan font-weight="bold">α</tspan>-KG</text>
<text x="112.15" y="483.00" font-size="9.4" text-anchor="middle" fill="#222" stroke="#222">1.00</text>
<text x="146.25" y="483.00" font-size="9.4" text-anchor="middle" fill="#222" stroke="#222">1.05</text>
<line x1="89.20" y1="496.04" x2="95.00" y2="496.04" stroke="#222" stroke-width="1.1"/>
<text x="84.90" y="499.64" font-size="10" text-anchor="end" fill="#1a1a1a" stroke="#1a1a1a">Succinyl-CoA</text>
<text x="112.15" y="499.64" font-size="9.4" text-anchor="middle" fill="#222" stroke="#222">1.00</text>
<text x="146.25" y="501.34" font-size="9.4" text-anchor="middle" fill="#222" stroke="#222">0.68</text>
<text x="146.25" y="494.04" font-size="5.5" text-anchor="middle" font-weight="bold" fill="#222" stroke="#222">**</text>
<line x1="89.20" y1="512.69" x2="95.00" y2="512.69" stroke="#222" stroke-width="1.1"/>
<text x="84.90" y="516.29" font-size="10" text-anchor="end" fill="#e0282a" stroke="#e0282a">Succinate</text>
<text x="112.15" y="516.29" font-size="9.4" text-anchor="middle" fill="#222" stroke="#222">1.00</text>
<text x="146.25" y="517.99" font-size="9.4" text-anchor="middle" fill="#222" stroke="#222">0.61</text>
<text x="146.25" y="510.69" font-size="5.5" text-anchor="middle" font-weight="bold" fill="#222" stroke="#222">***</text>
<line x1="89.20" y1="529.33" x2="95.00" y2="529.33" stroke="#222" stroke-width="1.1"/>
<text x="84.90" y="532.93" font-size="10" text-anchor="end" fill="#1a1a1a" stroke="#1a1a1a">Fumarate</text>
<text x="112.15" y="532.93" font-size="9.4" text-anchor="middle" fill="#222" stroke="#222">1.00</text>
<text x="146.25" y="534.63" font-size="9.4" text-anchor="middle" fill="#222" stroke="#222">0.54</text>
<text x="146.25" y="527.33" font-size="5.5" text-anchor="middle" font-weight="bold" fill="#222" stroke="#222">****</text>
<line x1="89.20" y1="545.98" x2="95.00" y2="545.98" stroke="#222" stroke-width="1.1"/>
<text x="84.90" y="549.58" font-size="10" text-anchor="end" fill="#1a1a1a" stroke="#1a1a1a">Malate</text>
<text x="112.15" y="549.58" font-size="9.4" text-anchor="middle" fill="#222" stroke="#222">1.00</text>
<text x="146.25" y="549.58" font-size="9.4" text-anchor="middle" fill="#222" stroke="#222">0.79</text>
<rect x="166.30" y="405.00" width="8.00" height="149.30" fill="url(#gCbar2)" stroke="#111" stroke-width="1.4"/>
<text x="177.80" y="413.60" font-size="11" fill="#222" stroke="#222">2</text>
<text x="177.80" y="484.00" font-size="11" fill="#222" stroke="#222">1</text>
<text x="177.80" y="554.50" font-size="11" fill="#222" stroke="#222">0</text>
<text x="197.90" y="481.00" font-size="14.7" text-anchor="middle" fill="#222" stroke="#222" transform="rotate(-90 197.90 481.00)">Fold Change (LCMS)</text>
<text x="116.20" y="562.00" font-size="9.8" text-anchor="end" font-weight="bold" fill="#111" stroke="#111" transform="rotate(-45 116.20 562.00)">shNT</text>
<text x="151.20" y="561.20" font-size="9.8" text-anchor="end" font-weight="bold" fill="#111" stroke="#111" transform="rotate(-45 151.20 561.20)">shHIBCH</text>
<text x="234.00" y="410.60" font-size="22" fill="#000" stroke="#000">g</text>
<text x="349.60" y="407.40" font-size="14.1" text-anchor="middle" font-weight="bold" fill="#111" stroke="#111">HIBCH Expression</text>
<text x="241.30" y="490.00" font-size="11.6" text-anchor="middle" font-weight="bold" fill="#111" stroke="#111" transform="rotate(-90 241.30 490.00)">Rel. ΔΔCT to siCTR</text>
<line x1="281.20" y1="442.60" x2="281.20" y2="543.30" stroke="#000" stroke-width="1.6"/>
<line x1="273.90" y1="543.30" x2="281.20" y2="543.30" stroke="#000" stroke-width="1.3"/>
<text x="270.80" y="548.50" font-size="13" text-anchor="end" font-weight="bold" fill="#111" stroke="#111">0.0</text>
<line x1="273.90" y1="493.25" x2="281.20" y2="493.25" stroke="#000" stroke-width="1.3"/>
<text x="270.80" y="498.45" font-size="13" text-anchor="end" font-weight="bold" fill="#111" stroke="#111">0.6</text>
<line x1="273.90" y1="443.20" x2="281.20" y2="443.20" stroke="#000" stroke-width="1.3"/>
<text x="270.80" y="448.40" font-size="13" text-anchor="end" font-weight="bold" fill="#111" stroke="#111">1.2</text>
<line x1="280.40" y1="543.30" x2="419.50" y2="543.30" stroke="#000" stroke-width="1.7"/>
<line x1="302.40" y1="543.30" x2="302.40" y2="550.90" stroke="#000" stroke-width="1.3"/>
<text x="303.90" y="562.00" font-size="11.5" text-anchor="end" font-weight="bold" fill="#111" stroke="#111" transform="rotate(-45 303.90 562.00)">siCTR</text>
<rect x="286.15" y="459.88" width="6.60" height="83.42" fill="#c2c3e8" stroke="#111" stroke-width="1.9"/>
<rect x="299.10" y="459.88" width="6.60" height="83.42" fill="#5c66b9" stroke="#111" stroke-width="1.9"/>
<rect x="312.05" y="459.88" width="6.60" height="83.42" fill="#4656b0" stroke="#111" stroke-width="1.9"/>
<line x1="349.90" y1="543.30" x2="349.90" y2="550.90" stroke="#000" stroke-width="1.3"/>
<text x="351.40" y="562.00" font-size="11.5" text-anchor="end" font-weight="bold" fill="#111" stroke="#111" transform="rotate(-45 351.40 562.00)">siHIBCH</text>
<rect x="333.65" y="542.30" width="6.60" height="1.00" fill="#c2c3e8" stroke="#111" stroke-width="1.9"/>
<rect x="346.60" y="542.30" width="6.60" height="1.00" fill="#5c66b9" stroke="#111" stroke-width="1.9"/>
<rect x="359.55" y="542.30" width="6.60" height="1.00" fill="#4656b0" stroke="#111" stroke-width="1.9"/>
<line x1="397.35" y1="543.30" x2="397.35" y2="550.90" stroke="#000" stroke-width="1.3"/>
<text x="398.85" y="562.00" font-size="11.5" text-anchor="end" font-weight="bold" fill="#111" stroke="#111" transform="rotate(-45 398.85 562.00)">siMCCC2</text>
<line x1="384.35" y1="476.57" x2="384.35" y2="471.56" stroke="#000" stroke-width="1.4"/>
<line x1="382.35" y1="471.56" x2="386.35" y2="471.56" stroke="#000" stroke-width="1.6"/>
<rect x="381.05" y="476.57" width="6.60" height="66.73" fill="#c2c3e8" stroke="#111" stroke-width="1.9"/>
<line x1="397.35" y1="498.25" x2="397.35" y2="494.58" stroke="#000" stroke-width="1.4"/>
<line x1="395.35" y1="494.58" x2="399.35" y2="494.58" stroke="#000" stroke-width="1.6"/>
<rect x="394.05" y="498.25" width="6.60" height="45.04" fill="#5c66b9" stroke="#111" stroke-width="1.9"/>
<line x1="410.35" y1="498.25" x2="410.35" y2="494.58" stroke="#000" stroke-width="1.4"/>
<line x1="408.35" y1="494.58" x2="412.35" y2="494.58" stroke="#000" stroke-width="1.6"/>
<rect x="407.05" y="498.25" width="6.60" height="45.04" fill="#4656b0" stroke="#111" stroke-width="1.9"/>
<path d="M289.2,456 L289.2,453.9 L384.1,453.9 L384.1,468.5" fill="none" stroke="#111" stroke-width="1.2"/>
<text x="343.20" y="456.44" font-size="13.5" text-anchor="middle" fill="#111" stroke="#111">***</text>
<path d="M302.5,450.2 L302.5,442.1 L397.3,442.1 L397.3,488.4" fill="none" stroke="#111" stroke-width="1.2"/>
<text x="352.70" y="442.44" font-size="13.5" text-anchor="middle" fill="#111" stroke="#111">****</text>
<path d="M315.0,439.3 L315.0,428.7 L410.3,428.7 L410.3,486.8" fill="none" stroke="#111" stroke-width="1.2"/>
<text x="364.50" y="431.74" font-size="13.5" text-anchor="middle" fill="#111" stroke="#111">****</text>
<rect x="414.40" y="434.90" width="14.80" height="6.30" fill="#c2c3e8" stroke="#222" stroke-width="1.0"/>
<text x="439.60" y="442.20" font-size="12.5" fill="#111" stroke="#111">48h</text>
<rect x="414.40" y="456.05" width="14.80" height="6.30" fill="#5c66b9" stroke="#222" stroke-width="1.0"/>
<text x="439.60" y="463.35" font-size="12.5" fill="#111" stroke="#111">72h</text>
<rect x="414.40" y="477.20" width="14.80" height="6.30" fill="#4656b0" stroke="#222" stroke-width="1.0"/>
<text x="439.60" y="484.50" font-size="12.5" fill="#111" stroke="#111">96h</text>
<text x="455.00" y="415.00" font-size="22" fill="#000" stroke="#000">h</text>
<text x="584.30" y="408.00" font-size="14.3" text-anchor="middle" font-weight="bold" fill="#111" stroke="#111">MCCC2 Expression</text>
<text x="484.70" y="490.70" font-size="12.0" text-anchor="middle" font-weight="bold" fill="#111" stroke="#111" transform="rotate(-90 484.70 490.70)">Rel. ΔΔCT to siCTR</text>
<line x1="523.40" y1="448.70" x2="523.40" y2="546.00" stroke="#000" stroke-width="1.6"/>
<line x1="516.10" y1="546.00" x2="523.40" y2="546.00" stroke="#000" stroke-width="1.3"/>
<text x="506.70" y="549.30" font-size="13" text-anchor="end" font-weight="bold" fill="#111" stroke="#111">0.0</text>
<line x1="516.10" y1="497.65" x2="523.40" y2="497.65" stroke="#000" stroke-width="1.3"/>
<text x="506.70" y="500.95" font-size="13" text-anchor="end" font-weight="bold" fill="#111" stroke="#111">0.6</text>
<line x1="516.10" y1="449.30" x2="523.40" y2="449.30" stroke="#000" stroke-width="1.3"/>
<text x="506.70" y="452.60" font-size="13" text-anchor="end" font-weight="bold" fill="#111" stroke="#111">1.2</text>
<line x1="522.60" y1="546.00" x2="667.10" y2="546.00" stroke="#000" stroke-width="1.7"/>
<line x1="545.70" y1="546.00" x2="545.70" y2="553.60" stroke="#000" stroke-width="1.3"/>
<text x="547.20" y="564.50" font-size="11.5" text-anchor="end" font-weight="bold" fill="#111" stroke="#111" transform="rotate(-45 547.20 564.50)">siCTR</text>
<rect x="528.85" y="466.22" width="6.80" height="79.78" fill="#d2efc6" stroke="#111" stroke-width="1.9"/>
<rect x="542.45" y="466.22" width="6.80" height="79.78" fill="#6fd34a" stroke="#111" stroke-width="1.9"/>
<rect x="556.05" y="466.22" width="6.80" height="79.78" fill="#3a904b" stroke="#111" stroke-width="1.9"/>
<line x1="594.95" y1="546.00" x2="594.95" y2="553.60" stroke="#000" stroke-width="1.3"/>
<text x="596.45" y="564.50" font-size="11.5" text-anchor="end" font-weight="bold" fill="#111" stroke="#111" transform="rotate(-45 596.45 564.50)">siHIBCH</text>
<line x1="581.60" y1="464.05" x2="581.60" y2="455.18" stroke="#000" stroke-width="1.4"/>
<line x1="579.60" y1="455.18" x2="583.60" y2="455.18" stroke="#000" stroke-width="1.6"/>
<rect x="578.20" y="464.05" width="6.80" height="81.95" fill="#d2efc6" stroke="#111" stroke-width="1.9"/>
<line x1="595.00" y1="510.74" x2="595.00" y2="497.29" stroke="#000" stroke-width="1.4"/>
<line x1="593.00" y1="497.29" x2="597.00" y2="497.29" stroke="#000" stroke-width="1.6"/>
<rect x="591.60" y="510.74" width="6.80" height="35.26" fill="#6fd34a" stroke="#111" stroke-width="1.9"/>
<line x1="608.40" y1="506.76" x2="608.40" y2="504.50" stroke="#000" stroke-width="1.4"/>
<line x1="606.40" y1="504.50" x2="610.40" y2="504.50" stroke="#000" stroke-width="1.6"/>
<rect x="605.00" y="506.76" width="6.80" height="39.24" fill="#3a904b" stroke="#111" stroke-width="1.9"/>
<line x1="644.80" y1="546.00" x2="644.80" y2="553.60" stroke="#000" stroke-width="1.3"/>
<text x="646.30" y="564.50" font-size="11.5" text-anchor="end" font-weight="bold" fill="#111" stroke="#111" transform="rotate(-45 646.30 564.50)">siMCCC2</text>
<line x1="631.00" y1="541.97" x2="631.00" y2="541.00" stroke="#000" stroke-width="1.4"/>
<line x1="629.00" y1="541.00" x2="633.00" y2="541.00" stroke="#000" stroke-width="1.6"/>
<rect x="627.60" y="541.97" width="6.80" height="4.03" fill="#d2efc6" stroke="#111" stroke-width="1.9"/>
<line x1="644.40" y1="543.58" x2="644.40" y2="542.78" stroke="#000" stroke-width="1.4"/>
<line x1="642.40" y1="542.78" x2="646.40" y2="542.78" stroke="#000" stroke-width="1.6"/>
<rect x="641.00" y="543.58" width="6.80" height="2.42" fill="#6fd34a" stroke="#111" stroke-width="1.9"/>
<line x1="657.80" y1="542.78" x2="657.80" y2="540.36" stroke="#000" stroke-width="1.4"/>
<line x1="655.80" y1="540.36" x2="659.80" y2="540.36" stroke="#000" stroke-width="1.6"/>
<rect x="654.40" y="542.78" width="6.80" height="3.22" fill="#3a904b" stroke="#111" stroke-width="1.9"/>
<path d="M532.2,461.2 L532.2,448.6 L581.6,448.6 L581.6,451.0" fill="none" stroke="#111" stroke-width="1.2"/>
<text x="562.90" y="445.50" font-size="10" text-anchor="middle" fill="#111" stroke="#111">ns</text>
<path d="M545.7,442.4 L545.7,435.2 L595.0,435.2 L595.0,492.7" fill="none" stroke="#111" stroke-width="1.2"/>
<text x="572.80" y="437.85" font-size="13" text-anchor="middle" fill="#111" stroke="#111">***</text>
<path d="M559.5,423.5 L559.5,419.5 L608.4,419.5 L608.4,493.4" fill="none" stroke="#111" stroke-width="1.2"/>
<text x="587.30" y="421.55" font-size="13" text-anchor="middle" fill="#111" stroke="#111">***</text>
<rect x="622.40" y="428.60" width="15.40" height="6.60" fill="#d2efc6" stroke="#222" stroke-width="1.0"/>
<text x="648.60" y="436.30" font-size="13" fill="#111" stroke="#111">48h</text>
<rect x="622.40" y="449.70" width="15.40" height="6.60" fill="#6fd34a" stroke="#222" stroke-width="1.0"/>
<text x="648.60" y="457.40" font-size="13" fill="#111" stroke="#111">72h</text>
<rect x="622.40" y="470.80" width="15.40" height="6.60" fill="#3a904b" stroke="#222" stroke-width="1.0"/>
<text x="648.60" y="478.50" font-size="13" fill="#111" stroke="#111">96h</text>
<text x="8.00" y="619.00" font-size="22" fill="#000" stroke="#000">i</text>
<text x="33.20" y="719.00" font-size="11.6" text-anchor="middle" font-weight="bold" fill="#111" stroke="#111" transform="rotate(-90 33.20 719.00)">Relative ΔΔ CT</text>
<text x="409.30" y="717.50" font-size="11.5" text-anchor="middle" font-weight="bold" fill="#111" stroke="#111" transform="rotate(-90 409.30 717.50)">Relative ΔΔ CT</text>
<line x1="63.60" y1="669.50" x2="63.60" y2="766.10" stroke="#000" stroke-width="1.5"/>
<line x1="56.60" y1="766.10" x2="63.60" y2="766.10" stroke="#000" stroke-width="1.3"/>
<text x="55.60" y="770.00" font-size="11.2" text-anchor="end" font-weight="bold" fill="#111" stroke="#111">0.0</text>
<line x1="56.60" y1="718.10" x2="63.60" y2="718.10" stroke="#000" stroke-width="1.3"/>
<text x="55.60" y="722.00" font-size="11.2" text-anchor="end" font-weight="bold" fill="#111" stroke="#111">0.5</text>
<line x1="56.60" y1="670.10" x2="63.60" y2="670.10" stroke="#000" stroke-width="1.3"/>
<text x="55.60" y="674.00" font-size="11.2" text-anchor="end" font-weight="bold" fill="#111" stroke="#111">1.0</text>
<line x1="62.90" y1="766.10" x2="114.70" y2="766.10" stroke="#000" stroke-width="1.6"/>
<rect x="71.60" y="670.10" width="12.70" height="96.00" fill="#9d9d9d" stroke="#111" stroke-width="1.6"/>
<line x1="77.70" y1="766.10" x2="77.70" y2="773.10" stroke="#000" stroke-width="1.3"/>
<rect x="93.50" y="764.66" width="11.70" height="1.44" fill="#bd8cc8" stroke="#111" stroke-width="1.6"/>
<line x1="99.30" y1="766.10" x2="99.30" y2="773.10" stroke="#000" stroke-width="1.3"/>
<text x="79.90" y="784.60" font-size="10.8" text-anchor="end" font-weight="bold" fill="#111" stroke="#111" transform="rotate(-45 79.90 784.60)">siCTR</text>
<text x="101.50" y="784.60" font-size="10.8" text-anchor="end" font-weight="bold" fill="#111" stroke="#111" transform="rotate(-45 101.50 784.60)">siHIBCH</text>
<text x="92.50" y="623.80" font-size="16.2" text-anchor="middle" font-style="italic" fill="#111" stroke="#111">HIBCH</text>
<path d="M77.7,661.4 L77.7,652.1 L99.3,652.1 L99.3,764.0" fill="none" stroke="#111" stroke-width="1.3"/>
<text x="90.80" y="652.74" font-size="18" text-anchor="middle" font-weight="bold" letter-spacing="2.0" fill="#111" stroke="#111">****</text>
<line x1="152.30" y1="669.50" x2="152.30" y2="765.80" stroke="#000" stroke-width="1.5"/>
<line x1="145.30" y1="765.80" x2="152.30" y2="765.80" stroke="#000" stroke-width="1.3"/>
<text x="144.30" y="769.70" font-size="11.2" text-anchor="end" font-weight="bold" fill="#111" stroke="#111">0.0</text>
<line x1="145.30" y1="717.95" x2="152.30" y2="717.95" stroke="#000" stroke-width="1.3"/>
<text x="144.30" y="721.85" font-size="11.2" text-anchor="end" font-weight="bold" fill="#111" stroke="#111">0.5</text>
<line x1="145.30" y1="670.10" x2="152.30" y2="670.10" stroke="#000" stroke-width="1.3"/>
<text x="144.30" y="674.00" font-size="11.2" text-anchor="end" font-weight="bold" fill="#111" stroke="#111">1.0</text>
<line x1="151.60" y1="765.80" x2="202.50" y2="765.80" stroke="#000" stroke-width="1.6"/>
<rect x="159.70" y="670.10" width="12.70" height="95.70" fill="#9d9d9d" stroke="#111" stroke-width="1.6"/>
<line x1="166.30" y1="765.80" x2="166.30" y2="772.80" stroke="#000" stroke-width="1.3"/>
<line x1="187.45" y1="708.38" x2="187.45" y2="705.03" stroke="#000" stroke-width="1.3"/>
<line x1="183.85" y1="705.03" x2="191.05" y2="705.03" stroke="#000" stroke-width="1.6"/>
<rect x="181.40" y="708.38" width="12.10" height="57.42" fill="#bd8cc8" stroke="#111" stroke-width="1.6"/>
<line x1="187.40" y1="765.80" x2="187.40" y2="772.80" stroke="#000" stroke-width="1.3"/>
<text x="168.50" y="784.60" font-size="10.8" text-anchor="end" font-weight="bold" fill="#111" stroke="#111" transform="rotate(-45 168.50 784.60)">siCTR</text>
<text x="189.60" y="784.60" font-size="10.8" text-anchor="end" font-weight="bold" fill="#111" stroke="#111" transform="rotate(-45 189.60 784.60)">siHIBCH</text>
<text x="176.60" y="623.80" font-size="16.2" text-anchor="middle" font-style="italic" fill="#111" stroke="#111">ACCα</text>
<path d="M165.5,662.2 L165.5,652.1 L187.4,652.1 L187.4,696.5" fill="none" stroke="#111" stroke-width="1.3"/>
<text x="178.20" y="652.74" font-size="18" text-anchor="middle" font-weight="bold" letter-spacing="2.0" fill="#111" stroke="#111">**</text>
<line x1="244.60" y1="670.00" x2="244.60" y2="766.60" stroke="#000" stroke-width="1.5"/>
<line x1="237.60" y1="766.60" x2="244.60" y2="766.60" stroke="#000" stroke-width="1.3"/>
<text x="236.60" y="770.50" font-size="11.2" text-anchor="end" font-weight="bold" fill="#111" stroke="#111">0.0</text>
<line x1="237.60" y1="718.60" x2="244.60" y2="718.60" stroke="#000" stroke-width="1.3"/>
<text x="236.60" y="722.50" font-size="11.2" text-anchor="end" font-weight="bold" fill="#111" stroke="#111">0.5</text>
<line x1="237.60" y1="670.60" x2="244.60" y2="670.60" stroke="#000" stroke-width="1.3"/>
<text x="236.60" y="674.50" font-size="11.2" text-anchor="end" font-weight="bold" fill="#111" stroke="#111">1.0</text>
<line x1="243.90" y1="766.60" x2="295.70" y2="766.60" stroke="#000" stroke-width="1.6"/>
<rect x="252.60" y="670.60" width="12.70" height="96.00" fill="#9d9d9d" stroke="#111" stroke-width="1.6"/>
<line x1="258.60" y1="766.60" x2="258.60" y2="773.60" stroke="#000" stroke-width="1.3"/>
<line x1="280.60" y1="720.52" x2="280.60" y2="707.56" stroke="#000" stroke-width="1.3"/>
<line x1="277.00" y1="707.56" x2="284.20" y2="707.56" stroke="#000" stroke-width="1.6"/>
<rect x="274.00" y="720.52" width="13.20" height="46.08" fill="#bd8cc8" stroke="#111" stroke-width="1.6"/>
<line x1="279.80" y1="766.60" x2="279.80" y2="773.60" stroke="#000" stroke-width="1.3"/>
<text x="260.80" y="784.60" font-size="10.8" text-anchor="end" font-weight="bold" fill="#111" stroke="#111" transform="rotate(-45 260.80 784.60)">siCTR</text>
<text x="282.00" y="784.60" font-size="10.8" text-anchor="end" font-weight="bold" fill="#111" stroke="#111" transform="rotate(-45 282.00 784.60)">siHIBCH</text>
<text x="272.80" y="623.80" font-size="16.2" text-anchor="middle" font-style="italic" fill="#111" stroke="#111">GOT2</text>
<path d="M258.6,661.4 L258.6,652.1 L280.3,652.1 L280.3,699.2" fill="none" stroke="#111" stroke-width="1.3"/>
<text x="270.70" y="652.74" font-size="18" text-anchor="middle" font-weight="bold" letter-spacing="2.0" fill="#111" stroke="#111">*</text>
<line x1="332.50" y1="667.40" x2="332.50" y2="765.80" stroke="#000" stroke-width="1.5"/>
<line x1="325.50" y1="765.80" x2="332.50" y2="765.80" stroke="#000" stroke-width="1.3"/>
<text x="324.50" y="769.70" font-size="11.2" text-anchor="end" font-weight="bold" fill="#111" stroke="#111">0.0</text>
<line x1="325.50" y1="733.20" x2="332.50" y2="733.20" stroke="#000" stroke-width="1.3"/>
<text x="324.50" y="737.10" font-size="11.2" text-anchor="end" font-weight="bold" fill="#111" stroke="#111">0.5</text>
<line x1="325.50" y1="700.60" x2="332.50" y2="700.60" stroke="#000" stroke-width="1.3"/>
<text x="324.50" y="704.50" font-size="11.2" text-anchor="end" font-weight="bold" fill="#111" stroke="#111">1.0</text>
<line x1="325.50" y1="668.00" x2="332.50" y2="668.00" stroke="#000" stroke-width="1.3"/>
<text x="324.50" y="671.90" font-size="11.2" text-anchor="end" font-weight="bold" fill="#111" stroke="#111">1.5</text>
<line x1="331.80" y1="765.80" x2="384.10" y2="765.80" stroke="#000" stroke-width="1.6"/>
<rect x="340.20" y="700.60" width="13.20" height="65.20" fill="#9d9d9d" stroke="#111" stroke-width="1.6"/>
<line x1="346.30" y1="765.80" x2="346.30" y2="772.80" stroke="#000" stroke-width="1.3"/>
<line x1="368.50" y1="683.00" x2="368.50" y2="681.69" stroke="#000" stroke-width="1.3"/>
<line x1="364.90" y1="681.69" x2="372.10" y2="681.69" stroke="#000" stroke-width="1.6"/>
<rect x="361.60" y="683.00" width="13.80" height="82.80" fill="#bd8cc8" stroke="#111" stroke-width="1.6"/>
<line x1="368.20" y1="765.80" x2="368.20" y2="772.80" stroke="#000" stroke-width="1.3"/>
<text x="348.50" y="784.60" font-size="10.8" text-anchor="end" font-weight="bold" fill="#111" stroke="#111" transform="rotate(-45 348.50 784.60)">siCTR</text>
<text x="370.40" y="784.60" font-size="10.8" text-anchor="end" font-weight="bold" fill="#111" stroke="#111" transform="rotate(-45 370.40 784.60)">siHIBCH</text>
<text x="359.50" y="623.80" font-size="16.2" text-anchor="middle" font-style="italic" fill="#111" stroke="#111">ACAT1</text>
<path d="M346.8,692.6 L346.8,664.3 L368.8,664.3 L368.8,674.8" fill="none" stroke="#111" stroke-width="1.3"/>
<text x="358.90" y="665.94" font-size="18" text-anchor="middle" font-weight="bold" letter-spacing="2.0" fill="#111" stroke="#111">***</text>
<line x1="437.60" y1="667.40" x2="437.60" y2="764.20" stroke="#000" stroke-width="1.5"/>
<line x1="430.60" y1="764.20" x2="437.60" y2="764.20" stroke="#000" stroke-width="1.3"/>
<text x="429.60" y="768.10" font-size="11.2" text-anchor="end" font-weight="bold" fill="#111" stroke="#111">0.0</text>
<line x1="430.60" y1="716.10" x2="437.60" y2="716.10" stroke="#000" stroke-width="1.3"/>
<text x="429.60" y="720.00" font-size="11.2" text-anchor="end" font-weight="bold" fill="#111" stroke="#111">0.5</text>
<line x1="430.60" y1="668.00" x2="437.60" y2="668.00" stroke="#000" stroke-width="1.3"/>
<text x="429.60" y="671.90" font-size="11.2" text-anchor="end" font-weight="bold" fill="#111" stroke="#111">1.0</text>
<line x1="436.90" y1="764.20" x2="491.30" y2="764.20" stroke="#000" stroke-width="1.6"/>
<rect x="445.50" y="668.00" width="13.10" height="96.20" fill="#9d9d9d" stroke="#111" stroke-width="1.6"/>
<line x1="451.80" y1="764.20" x2="451.80" y2="771.20" stroke="#000" stroke-width="1.3"/>
<line x1="473.10" y1="689.16" x2="473.10" y2="679.54" stroke="#000" stroke-width="1.3"/>
<line x1="469.50" y1="679.54" x2="476.70" y2="679.54" stroke="#000" stroke-width="1.6"/>
<rect x="466.20" y="689.16" width="13.80" height="75.04" fill="#bd8cc8" stroke="#111" stroke-width="1.6"/>
<line x1="473.00" y1="764.20" x2="473.00" y2="771.20" stroke="#000" stroke-width="1.3"/>
<text x="454.00" y="784.60" font-size="10.8" text-anchor="end" font-weight="bold" fill="#111" stroke="#111" transform="rotate(-45 454.00 784.60)">siCTR</text>
<text x="475.20" y="784.60" font-size="10.8" text-anchor="end" font-weight="bold" fill="#111" stroke="#111" transform="rotate(-45 475.20 784.60)">siHIBCH</text>
<text x="456.60" y="620.60" font-size="16.8" text-anchor="middle" font-style="italic" fill="#111" stroke="#111">CPT1A</text>
<path d="M451.5,659.6 L451.5,650.2 L473.7,650.2 L473.7,670.0" fill="none" stroke="#111" stroke-width="1.3"/>
<text x="460.70" y="638.50" font-size="12.3" text-anchor="middle" fill="#111" stroke="#111">ns, p=0.08</text>
<line x1="524.90" y1="667.40" x2="524.90" y2="764.30" stroke="#000" stroke-width="1.5"/>
<line x1="517.90" y1="764.30" x2="524.90" y2="764.30" stroke="#000" stroke-width="1.3"/>
<text x="516.90" y="768.20" font-size="11.2" text-anchor="end" font-weight="bold" fill="#111" stroke="#111">0.0</text>
<line x1="517.90" y1="740.22" x2="524.90" y2="740.22" stroke="#000" stroke-width="1.3"/>
<text x="516.90" y="744.12" font-size="11.2" text-anchor="end" font-weight="bold" fill="#111" stroke="#111">0.5</text>
<line x1="517.90" y1="716.15" x2="524.90" y2="716.15" stroke="#000" stroke-width="1.3"/>
<text x="516.90" y="720.05" font-size="11.2" text-anchor="end" font-weight="bold" fill="#111" stroke="#111">1.0</text>
<line x1="517.90" y1="692.08" x2="524.90" y2="692.08" stroke="#000" stroke-width="1.3"/>
<text x="516.90" y="695.98" font-size="11.2" text-anchor="end" font-weight="bold" fill="#111" stroke="#111">1.5</text>
<line x1="517.90" y1="668.00" x2="524.90" y2="668.00" stroke="#000" stroke-width="1.3"/>
<text x="516.90" y="671.90" font-size="11.2" text-anchor="end" font-weight="bold" fill="#111" stroke="#111">2.0</text>
<line x1="524.20" y1="764.30" x2="576.00" y2="764.30" stroke="#000" stroke-width="1.6"/>
<rect x="532.80" y="716.15" width="12.90" height="48.15" fill="#9d9d9d" stroke="#111" stroke-width="1.6"/>
<line x1="539.20" y1="764.30" x2="539.20" y2="771.30" stroke="#000" stroke-width="1.3"/>
<line x1="561.00" y1="694.48" x2="561.00" y2="677.63" stroke="#000" stroke-width="1.3"/>
<line x1="557.40" y1="677.63" x2="564.60" y2="677.63" stroke="#000" stroke-width="1.6"/>
<rect x="554.60" y="694.48" width="12.80" height="69.82" fill="#bd8cc8" stroke="#111" stroke-width="1.6"/>
<line x1="560.90" y1="764.30" x2="560.90" y2="771.30" stroke="#000" stroke-width="1.3"/>
<text x="541.40" y="784.60" font-size="10.8" text-anchor="end" font-weight="bold" fill="#111" stroke="#111" transform="rotate(-45 541.40 784.60)">siCTR</text>
<text x="563.10" y="784.60" font-size="10.8" text-anchor="end" font-weight="bold" fill="#111" stroke="#111" transform="rotate(-45 563.10 784.60)">siHIBCH</text>
<text x="544.20" y="620.60" font-size="16.8" text-anchor="middle" font-style="italic" fill="#111" stroke="#111">HMGCR</text>
<path d="M539.6,707.5 L539.6,661.2 L560.9,661.2 L560.9,670.0" fill="none" stroke="#111" stroke-width="1.3"/>
<text x="548.50" y="653.30" font-size="12.3" text-anchor="middle" fill="#111" stroke="#111">ns, p=0.19</text>
<line x1="617.60" y1="662.10" x2="617.60" y2="764.70" stroke="#000" stroke-width="1.5"/>
<line x1="610.60" y1="764.70" x2="617.60" y2="764.70" stroke="#000" stroke-width="1.3"/>
<text x="609.60" y="768.60" font-size="11.2" text-anchor="end" font-weight="bold" fill="#111" stroke="#111">0.0</text>
<line x1="610.60" y1="739.20" x2="617.60" y2="739.20" stroke="#000" stroke-width="1.3"/>
<text x="609.60" y="743.10" font-size="11.2" text-anchor="end" font-weight="bold" fill="#111" stroke="#111">0.5</text>
<line x1="610.60" y1="713.70" x2="617.60" y2="713.70" stroke="#000" stroke-width="1.3"/>
<text x="609.60" y="717.60" font-size="11.2" text-anchor="end" font-weight="bold" fill="#111" stroke="#111">1.0</text>
<line x1="610.60" y1="688.20" x2="617.60" y2="688.20" stroke="#000" stroke-width="1.3"/>
<text x="609.60" y="692.10" font-size="11.2" text-anchor="end" font-weight="bold" fill="#111" stroke="#111">1.5</text>
<line x1="610.60" y1="662.70" x2="617.60" y2="662.70" stroke="#000" stroke-width="1.3"/>
<text x="609.60" y="666.60" font-size="11.2" text-anchor="end" font-weight="bold" fill="#111" stroke="#111">2.0</text>
<line x1="616.90" y1="764.70" x2="673.00" y2="764.70" stroke="#000" stroke-width="1.6"/>
<rect x="625.60" y="713.70" width="14.70" height="51.00" fill="#9d9d9d" stroke="#111" stroke-width="1.6"/>
<line x1="633.30" y1="764.70" x2="633.30" y2="771.70" stroke="#000" stroke-width="1.3"/>
<line x1="655.50" y1="691.77" x2="655.50" y2="680.55" stroke="#000" stroke-width="1.3"/>
<line x1="651.90" y1="680.55" x2="659.10" y2="680.55" stroke="#000" stroke-width="1.6"/>
<rect x="648.50" y="691.77" width="14.00" height="72.93" fill="#bd8cc8" stroke="#111" stroke-width="1.6"/>
<line x1="655.50" y1="764.70" x2="655.50" y2="771.70" stroke="#000" stroke-width="1.3"/>
<text x="635.50" y="784.60" font-size="10.8" text-anchor="end" font-weight="bold" fill="#111" stroke="#111" transform="rotate(-45 635.50 784.60)">siCTR</text>
<text x="657.70" y="784.60" font-size="10.8" text-anchor="end" font-weight="bold" fill="#111" stroke="#111" transform="rotate(-45 657.70 784.60)">siHIBCH</text>
<text x="636.50" y="620.60" font-size="16.8" text-anchor="middle" font-style="italic" fill="#111" stroke="#111">HMGCS</text>
<path d="M632.8,704.0 L632.8,662.1 L655.6,662.1 L655.6,671.4" fill="none" stroke="#111" stroke-width="1.3"/>
<text x="636.80" y="651.20" font-size="11.5" text-anchor="middle" fill="#111" stroke="#111">ns, p=0.09</text></svg></body></html>
